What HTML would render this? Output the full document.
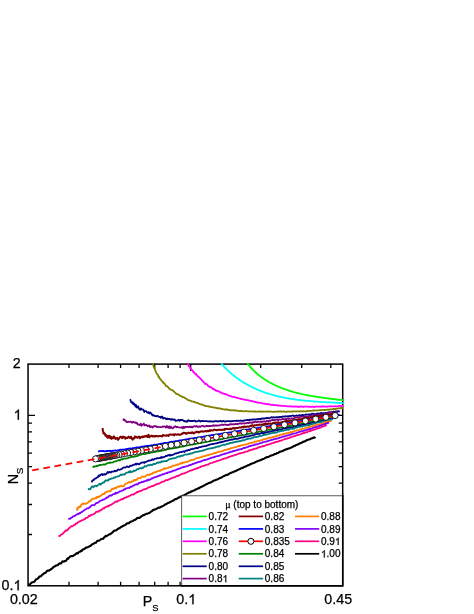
<!DOCTYPE html>
<html><head><meta charset="utf-8"><title>chart</title>
<style>html,body{margin:0;padding:0;background:#fff}svg{display:block}text{font-family:"Liberation Sans",sans-serif;fill:#000;stroke:#000;stroke-width:.25px}</style></head>
<body>
<svg style="will-change:transform" width="474" height="614" viewBox="0 0 474 614">
<rect width="474" height="614" fill="#fff"/>
<defs><clipPath id="cp"><rect x="28.05" y="363.35" width="315.4" height="222.44999999999993"/></clipPath></defs>
<rect x="28.05" y="364.1" width="314.65" height="221.69999999999993" fill="none" stroke="#000" stroke-width="1.5"/>
<path d="M69.0 585.8 v-4 M69.0 364.1 v4 M98.1 585.8 v-4 M98.1 364.1 v4 M120.6 585.8 v-4 M120.6 364.1 v4 M139.1 585.8 v-4 M139.1 364.1 v4 M154.7 585.8 v-4 M154.7 364.1 v4 M168.1 585.8 v-4 M168.1 364.1 v4 M180.1 585.8 v-4 M180.1 364.1 v4 M260.7 585.8 v-4 M260.7 364.1 v4 M301.7 585.8 v-4 M301.7 364.1 v4 M330.8 585.8 v-4 M330.8 364.1 v4 M190.7 585.8 v-6.8 M190.7 364.1 v6.8 M28.05 534.5 h4 M342.7 534.5 h-4 M28.05 504.5 h4 M342.7 504.5 h-4 M28.05 483.2 h4 M342.7 483.2 h-4 M28.05 466.7 h4 M342.7 466.7 h-4 M28.05 453.2 h4 M342.7 453.2 h-4 M28.05 441.8 h4 M342.7 441.8 h-4 M28.05 431.9 h4 M342.7 431.9 h-4 M28.05 423.2 h4 M342.7 423.2 h-4 M28.05 415.4 h6.9 M342.7 415.4 h-6.9" stroke="#000" stroke-width="1.3" fill="none"/>
<g clip-path="url(#cp)" fill="none" stroke-linejoin="round" stroke-linecap="butt">
<path d="M247.3 363.3 L247.8 364.1 L248.3 364.7 L248.8 365.1 L249.3 365.7 L249.8 366.3 L250.3 367.0 L250.9 367.6 L251.4 368.2 L252.0 368.7 L252.5 369.4 L253.1 369.9 L253.6 370.5 L254.2 371.0 L254.8 371.6 L255.4 372.2 L256.0 372.7 L256.5 373.2 L257.1 373.7 L257.7 374.3 L258.4 374.8 L259.0 375.3 L259.6 375.8 L260.2 376.2 L260.8 376.7 L261.5 377.2 L262.1 377.6 L262.8 378.1 L263.4 378.5 L264.1 379.0 L264.7 379.4 L265.4 379.8 L266.1 380.2 L266.7 380.7 L267.4 381.1 L268.1 381.5 L268.8 382.0 L269.5 382.4 L270.2 382.7 L270.9 383.0 L271.6 383.4 L272.3 383.8 L273.0 384.2 L273.7 384.5 L274.4 384.8 L275.1 385.2 L275.8 385.5 L276.6 385.9 L277.3 386.2 L278.0 386.5 L278.8 386.9 L279.5 387.2 L280.2 387.5 L281.0 387.7 L281.7 388.1 L282.5 388.3 L283.2 388.6 L284.0 388.9 L284.7 389.1 L285.5 389.4 L286.2 389.7 L287.0 390.0 L287.8 390.2 L288.5 390.4 L289.3 390.7 L290.1 390.9 L290.8 391.2 L291.6 391.4 L292.4 391.7 L293.1 391.8 L293.9 392.1 L294.7 392.3 L295.5 392.5 L296.2 392.7 L297.0 392.9 L297.8 393.1 L298.6 393.2 L299.4 393.5 L300.1 393.7 L300.9 393.8 L301.7 394.0 L302.5 394.3 L303.3 394.3 L304.1 394.5 L304.9 394.7 L305.6 394.8 L306.4 395.0 L307.2 395.1 L308.0 395.3 L308.8 395.5 L309.6 395.6 L310.4 395.6 L311.2 395.8 L312.0 396.0 L312.8 396.2 L313.6 396.3 L314.4 396.4 L315.2 396.6 L316.0 396.7 L316.7 396.8 L317.5 396.9 L318.3 397.1 L319.1 397.2 L319.9 397.3 L320.7 397.4 L321.5 397.4 L322.3 397.6 L323.1 397.8 L323.9 397.8 L324.7 397.9 L325.5 398.1 L326.3 398.2 L327.1 398.4 L327.9 398.4 L328.7 398.5 L329.5 398.5 L330.3 398.8 L331.1 398.9 L331.8 398.9 L332.6 399.0 L333.4 399.1 L334.2 399.1 L335.0 399.3 L335.8 399.4 L336.6 399.5 L337.4 399.6 L338.2 399.6 L338.9 399.8 L339.7 399.8 L340.5 399.9 L341.3 399.9 L342.1 400.1 L342.9 400.2 L343.6 400.3" stroke="#00ff00" stroke-width="1.8"/>
<path d="M221.2 362.8 L221.7 363.6 L222.2 364.4 L222.8 365.2 L223.3 365.8 L223.9 366.4 L224.4 367.0 L224.9 367.4 L225.5 368.2 L226.1 368.6 L226.6 369.3 L227.2 369.9 L227.8 370.3 L228.4 370.9 L228.9 371.6 L229.5 372.0 L230.1 372.4 L230.7 373.0 L231.3 373.5 L231.9 374.2 L232.5 374.6 L233.2 375.1 L233.8 375.4 L234.4 376.2 L235.0 376.5 L235.7 377.0 L236.3 377.6 L236.9 378.0 L237.6 378.5 L238.2 378.9 L238.9 379.5 L239.5 380.0 L240.2 380.3 L240.9 380.8 L241.5 381.2 L242.2 381.6 L242.9 381.9 L243.5 382.4 L244.2 382.9 L244.9 383.3 L245.6 383.7 L246.3 384.0 L247.0 384.4 L247.7 384.9 L248.4 385.2 L249.1 385.5 L249.8 386.0 L250.5 386.3 L251.2 386.7 L251.9 387.1 L252.6 387.4 L253.3 387.8 L254.0 388.2 L254.8 388.5 L255.5 388.6 L256.2 389.1 L256.9 389.4 L257.7 389.8 L258.4 390.0 L259.2 390.4 L259.9 390.6 L260.6 390.9 L261.4 391.2 L262.1 391.5 L262.9 391.8 L263.6 392.1 L264.4 392.4 L265.1 392.6 L265.9 392.9 L266.6 393.1 L267.4 393.3 L268.1 393.5 L268.9 393.8 L269.7 394.0 L270.4 394.2 L271.2 394.5 L272.0 394.7 L272.7 394.9 L273.5 395.2 L274.3 395.4 L275.0 395.6 L275.8 395.7 L276.6 395.9 L277.4 396.1 L278.1 396.4 L278.9 396.6 L279.7 396.7 L280.5 396.8 L281.3 396.9 L282.0 397.2 L282.8 397.3 L283.6 397.5 L284.4 397.6 L285.2 397.8 L286.0 397.9 L286.8 398.2 L287.6 398.3 L288.3 398.4 L289.1 398.5 L289.9 398.6 L290.7 398.8 L291.5 398.9 L292.3 399.1 L293.1 399.2 L293.9 399.3 L294.7 399.4 L295.5 399.6 L296.3 399.6 L297.1 399.8 L297.9 399.9 L298.7 399.9 L299.5 400.0 L300.3 400.1 L301.1 400.2 L301.9 400.3 L302.7 400.3 L303.5 400.5 L304.3 400.6 L305.1 400.7 L305.9 400.6 L306.7 400.8 L307.5 400.8 L308.3 400.9 L309.1 400.9 L309.9 401.1 L310.7 401.2 L311.5 401.2 L312.3 401.3 L313.1 401.4 L314.0 401.4 L314.8 401.6 L315.6 401.6 L316.4 401.6 L317.2 401.6 L318.0 401.7 L318.8 401.8 L319.6 401.8 L320.4 401.9 L321.2 402.0 L322.0 402.0 L322.8 402.1 L323.6 402.1 L324.4 402.1 L325.2 402.2 L326.0 402.2 L326.8 402.3 L327.6 402.3 L328.4 402.2 L329.2 402.3 L330.0 402.3 L330.8 402.4 L331.6 402.4 L332.4 402.5 L333.1 402.6 L333.9 402.7 L334.7 402.6 L335.5 402.8 L336.3 402.9 L337.1 402.7 L337.9 403.0 L338.7 402.8 L339.5 402.9 L340.3 403.0 L341.0 403.0 L341.8 403.2 L342.6 403.2 L343.4 403.1 L343.6 403.2" stroke="#00ffff" stroke-width="1.8"/>
<path d="M187.3 363.3 L187.7 363.9 L188.1 365.0 L188.5 365.6 L188.9 366.2 L189.4 366.2 L189.8 366.8 L190.3 368.5 L190.8 368.4 L191.3 369.5 L191.8 369.7 L192.3 370.6 L192.8 370.7 L193.4 372.2 L193.9 371.9 L194.4 372.8 L195.0 373.5 L195.5 374.4 L196.1 374.0 L196.6 375.0 L197.2 375.4 L197.7 376.3 L198.3 376.8 L198.8 376.9 L199.4 377.7 L200.0 378.0 L200.6 378.9 L201.1 379.4 L201.7 379.9 L202.3 380.7 L202.9 381.3 L203.5 382.4 L204.1 382.4 L204.7 383.3 L205.3 384.1 L206.0 383.6 L206.6 384.1 L207.2 384.7 L207.9 385.5 L208.5 386.4 L209.2 386.5 L209.8 387.1 L210.5 387.2 L211.2 387.3 L211.8 387.8 L212.5 388.8 L213.2 389.0 L213.9 389.0 L214.6 389.9 L215.3 389.8 L216.0 390.6 L216.7 391.0 L217.4 390.8 L218.1 391.0 L218.8 391.7 L219.6 391.7 L220.3 392.3 L221.0 392.3 L221.8 393.1 L222.5 393.3 L223.2 393.6 L224.0 393.7 L224.7 394.1 L225.5 394.0 L226.2 394.4 L227.0 394.7 L227.7 395.2 L228.5 395.3 L229.3 395.9 L230.0 395.9 L230.8 396.1 L231.6 396.6 L232.3 396.8 L233.1 396.8 L233.9 396.9 L234.7 397.2 L235.4 397.3 L236.2 397.5 L237.0 397.9 L237.8 398.0 L238.5 398.2 L239.3 398.4 L240.1 398.6 L240.9 398.8 L241.7 399.1 L242.4 399.1 L243.2 399.3 L244.0 399.6 L244.8 399.7 L245.6 399.8 L246.3 400.2 L247.1 400.1 L247.9 400.1 L248.7 400.5 L249.5 400.6 L250.3 400.8 L251.0 401.0 L251.8 401.1 L252.6 401.2 L253.4 401.4 L254.2 401.6 L255.0 402.0 L255.8 402.0 L256.5 402.2 L257.3 402.6 L258.1 402.4 L258.9 402.8 L259.7 402.9 L260.5 402.9 L261.3 402.9 L262.0 403.3 L262.8 403.5 L263.6 403.7 L264.4 403.7 L265.2 404.0 L266.0 404.1 L266.8 403.9 L267.6 404.3 L268.3 404.2 L269.1 404.3 L269.9 404.4 L270.7 404.8 L271.5 404.9 L272.3 404.7 L273.1 405.0 L273.9 405.1 L274.7 405.1 L275.5 405.2 L276.3 405.2 L277.1 405.5 L277.8 405.4 L278.6 405.5 L279.4 405.6 L280.2 405.6 L281.0 405.8 L281.8 405.9 L282.6 405.8 L283.4 405.8 L284.2 405.9 L285.0 406.1 L285.8 406.1 L286.6 406.2 L287.4 406.3 L288.2 406.3 L289.0 406.4 L289.8 406.2 L290.6 406.6 L291.4 406.3 L292.2 406.4 L293.0 406.7 L293.8 406.6 L294.6 406.6 L295.4 406.5 L296.2 406.4 L297.0 406.6 L297.8 406.8 L298.6 406.6 L299.4 406.8 L300.2 406.5 L301.0 406.5 L301.8 406.7 L302.6 406.7 L303.4 406.9 L304.2 406.7 L305.0 406.7 L305.8 406.6 L306.6 406.6 L307.4 406.7 L308.2 406.7 L309.0 406.9 L309.8 406.8 L310.6 406.7 L311.4 407.0 L312.2 406.7 L313.0 406.7 L313.8 407.0 L314.6 407.0 L315.4 406.7 L316.2 406.6 L317.0 406.6 L317.8 406.7 L318.6 406.6 L319.4 406.6 L320.2 406.7 L321.0 406.8 L321.8 406.4 L322.6 406.5 L323.4 406.4 L324.2 406.7 L325.0 406.7 L325.8 406.7 L326.6 406.6 L327.4 406.7 L328.2 406.3 L329.0 406.5 L329.8 406.3 L330.6 406.2 L331.4 406.3 L332.2 406.4 L333.0 406.4 L333.8 406.4 L334.6 406.3 L335.4 406.1 L336.2 406.4 L337.0 406.3 L337.8 406.4 L338.6 406.0 L339.4 405.8 L340.2 405.9 L341.0 406.2 L341.8 406.1 L342.6 406.0 L343.4 406.0 L343.6 406.0" stroke="#ff00ff" stroke-width="1.8"/>
<path d="M152.9 363.1 L153.1 363.8 L153.3 365.1 L153.5 365.8 L153.7 366.8 L154.0 367.1 L154.2 368.1 L154.5 368.5 L154.8 368.4 L155.1 370.0 L155.4 370.5 L155.8 371.8 L156.1 372.2 L156.5 373.1 L156.9 373.9 L157.3 374.4 L157.7 374.8 L158.1 375.0 L158.5 377.1 L158.9 376.6 L159.4 377.7 L159.8 378.6 L160.3 379.1 L160.8 379.7 L161.3 380.3 L161.8 381.0 L162.3 381.4 L162.8 382.5 L163.4 382.2 L163.9 383.2 L164.4 383.6 L165.0 384.2 L165.6 385.2 L166.1 386.2 L166.7 386.1 L167.3 386.4 L167.9 387.1 L168.5 387.5 L169.1 388.6 L169.7 389.1 L170.4 389.4 L171.0 389.6 L171.6 390.1 L172.3 390.4 L172.9 390.4 L173.6 391.3 L174.2 391.8 L174.9 392.4 L175.5 392.8 L176.2 393.9 L176.9 394.0 L177.5 394.4 L178.2 394.4 L178.9 394.8 L179.6 395.4 L180.3 395.9 L181.0 396.1 L181.7 396.4 L182.4 397.1 L183.1 397.2 L183.8 397.2 L184.5 397.7 L185.2 398.1 L186.0 398.7 L186.7 398.8 L187.4 399.5 L188.1 400.1 L188.9 400.3 L189.6 400.3 L190.3 400.6 L191.1 401.0 L191.8 401.4 L192.6 401.7 L193.3 401.7 L194.1 401.6 L194.8 402.4 L195.6 402.4 L196.4 402.8 L197.1 403.0 L197.9 403.0 L198.6 403.5 L199.4 403.9 L200.2 404.3 L201.0 404.4 L201.7 404.3 L202.5 404.8 L203.3 405.1 L204.1 405.4 L204.8 405.6 L205.6 406.0 L206.4 406.1 L207.2 406.2 L208.0 406.3 L208.8 406.2 L209.5 406.8 L210.3 406.9 L211.1 406.9 L211.9 407.2 L212.7 407.4 L213.5 407.4 L214.3 407.6 L215.1 407.7 L215.8 407.9 L216.6 408.0 L217.4 408.3 L218.2 408.1 L219.0 408.3 L219.8 408.3 L220.6 408.6 L221.4 408.9 L222.2 409.0 L223.0 409.2 L223.8 409.3 L224.5 409.6 L225.3 409.4 L226.1 409.7 L226.9 409.4 L227.7 409.7 L228.5 410.0 L229.3 410.0 L230.1 410.2 L230.9 410.3 L231.7 410.1 L232.5 410.3 L233.3 410.3 L234.1 410.2 L234.8 410.5 L235.6 410.5 L236.4 410.7 L237.2 410.5 L238.0 410.9 L238.8 410.8 L239.6 411.1 L240.4 411.0 L241.2 411.0 L242.0 411.1 L242.8 411.2 L243.6 411.3 L244.4 411.4 L245.2 411.2 L246.0 411.1 L246.8 411.1 L247.6 411.3 L248.4 411.5 L249.2 411.4 L249.9 411.4 L250.7 411.3 L251.5 411.3 L252.3 411.4 L253.1 411.6 L253.9 411.4 L254.7 411.6 L255.5 411.4 L256.3 411.6 L257.1 411.6 L257.9 411.6 L258.7 411.5 L259.5 411.5 L260.3 411.6 L261.1 411.5 L261.9 411.8 L262.7 411.5 L263.5 411.6 L264.3 411.6 L265.1 411.6 L265.9 411.6 L266.7 411.7 L267.5 411.7 L268.3 411.4 L269.1 411.6 L269.9 411.5 L270.7 411.7 L271.5 411.7 L272.3 411.8 L273.1 411.8 L273.9 411.7 L274.7 411.9 L275.5 411.6 L276.3 411.7 L277.1 411.6 L277.9 411.5 L278.7 411.4 L279.5 411.6 L280.3 411.5 L281.1 411.5 L281.9 411.5 L282.7 411.7 L283.5 411.5 L284.3 411.4 L285.1 411.7 L285.9 411.8 L286.7 411.8 L287.5 411.5 L288.3 411.6 L289.1 411.6 L289.9 411.7 L290.7 411.6 L291.5 411.4 L292.3 411.6 L293.1 411.5 L293.9 411.3 L294.7 411.3 L295.5 411.4 L296.3 411.3 L297.1 411.4 L297.9 411.4 L298.7 411.4 L299.5 411.3 L300.3 411.2 L301.1 411.4 L301.9 411.4 L302.7 411.4 L303.6 411.2 L304.4 411.3 L305.2 411.4 L306.0 411.3 L306.8 411.1 L307.6 411.1 L308.4 410.8 L309.2 410.9 L310.0 410.8 L310.8 410.8 L311.6 410.8 L312.4 410.7 L313.2 410.4 L314.0 410.5 L314.8 410.5 L315.6 410.4 L316.4 410.3 L317.2 410.4 L318.0 410.4 L318.8 410.3 L319.6 410.1 L320.4 410.2 L321.1 410.1 L321.9 410.0 L322.7 409.8 L323.5 410.0 L324.3 409.8 L325.1 410.1 L325.9 409.8 L326.7 409.7 L327.5 409.7 L328.3 409.9 L329.1 409.5 L329.9 409.5 L330.7 409.3 L331.5 409.3 L332.3 409.2 L333.1 409.2 L333.9 408.9 L334.7 409.0 L335.5 409.1 L336.3 408.7 L337.1 408.7 L337.9 408.5 L338.7 408.3 L339.4 408.3 L340.2 408.4 L341.0 408.1 L341.8 407.9 L342.6 408.0 L343.4 407.9 L343.6 408.0" stroke="#808000" stroke-width="1.8"/>
<path d="M130.0 399.3 L130.5 400.0 L131.0 402.0 L131.5 402.2 L132.0 402.8 L132.6 402.2 L133.1 404.0 L133.7 403.3 L134.3 404.9 L134.9 404.3 L135.5 406.6 L136.1 405.0 L136.8 407.4 L137.4 407.6 L138.1 406.4 L138.7 407.8 L139.4 409.4 L140.1 409.7 L140.8 408.4 L141.5 409.5 L142.2 409.3 L142.9 409.6 L143.6 410.1 L144.3 412.0 L145.0 411.1 L145.8 411.2 L146.5 411.4 L147.2 412.4 L148.0 412.8 L148.7 412.1 L149.5 413.5 L150.2 412.5 L151.0 413.3 L151.8 414.3 L152.5 415.5 L153.3 414.9 L154.0 415.4 L154.8 416.1 L155.6 415.9 L156.3 416.3 L157.1 416.3 L157.8 415.9 L158.6 416.5 L159.4 417.0 L160.1 416.9 L160.9 417.8 L161.7 416.5 L162.5 417.0 L163.2 418.5 L164.0 418.1 L164.8 417.9 L165.5 418.6 L166.3 419.2 L167.1 418.5 L167.9 419.2 L168.6 418.8 L169.4 418.9 L170.2 419.2 L171.0 419.9 L171.8 419.0 L172.5 419.3 L173.3 419.9 L174.1 419.4 L174.9 419.7 L175.7 420.9 L176.5 420.7 L177.3 420.5 L178.0 420.4 L178.8 419.8 L179.6 420.8 L180.4 419.9 L181.2 420.2 L182.0 419.7 L182.8 420.1 L183.6 421.0 L184.4 420.9 L185.2 421.5 L186.0 421.2 L186.8 421.8 L187.6 420.9 L188.4 420.2 L189.2 421.0 L190.0 420.8 L190.8 421.1 L191.6 420.9 L192.4 421.0 L193.2 421.0 L194.0 420.8 L194.8 420.7 L195.6 421.5 L196.4 421.3 L197.2 421.4 L198.0 421.1 L198.8 420.6 L199.6 420.7 L200.4 421.6 L201.2 421.1 L202.0 421.2 L202.8 420.9 L203.6 421.1 L204.4 421.1 L205.2 421.2 L206.0 421.2 L206.8 421.2 L207.6 421.3 L208.4 421.4 L209.2 421.5 L210.0 421.2 L210.8 421.6 L211.6 421.3 L212.4 421.5 L213.2 421.4 L214.0 421.7 L214.8 421.2 L215.6 421.0 L216.4 421.2 L217.2 421.5 L218.0 421.1 L218.8 421.5 L219.6 421.3 L220.4 420.9 L221.2 421.2 L222.0 421.6 L222.8 421.1 L223.6 421.0 L224.4 421.4 L225.2 421.5 L226.0 421.5 L226.8 421.2 L227.6 421.2 L228.4 421.1 L229.2 421.2 L230.0 421.4 L230.8 421.1 L231.6 421.4 L232.4 421.0 L233.2 421.2 L234.0 420.8 L234.8 420.8 L235.6 421.0 L236.4 420.7 L237.2 421.0 L238.0 420.7 L238.8 420.8 L239.6 420.7 L240.4 420.5 L241.2 420.6 L242.0 420.9 L242.8 421.0 L243.6 420.4 L244.4 420.6 L245.2 420.3 L246.0 420.1 L246.8 420.2 L247.6 419.9 L248.4 420.0 L249.1 420.2 L249.9 419.5 L250.7 419.8 L251.5 419.8 L252.3 419.4 L253.1 419.5 L253.9 419.4 L254.7 419.3 L255.5 419.7 L256.3 419.2 L257.1 419.5 L257.9 419.2 L258.7 419.0 L259.5 419.0 L260.3 418.9 L261.1 419.0 L261.9 418.4 L262.7 418.6 L263.5 418.4 L264.3 418.7 L265.1 418.1 L265.9 418.4 L266.7 417.9 L267.5 418.2 L268.3 418.1 L269.1 418.2 L269.9 417.8 L270.7 417.5 L271.5 417.2 L272.3 417.6 L273.0 417.3 L273.8 417.2 L274.6 417.6 L275.4 417.3 L276.2 417.2 L277.0 417.1 L277.8 417.5 L278.6 417.5 L279.4 416.8 L280.2 416.9 L281.0 417.0 L281.8 417.1 L282.6 416.4 L283.4 416.7 L284.2 416.7 L285.0 416.2 L285.8 416.5 L286.6 416.4 L287.4 416.4 L288.2 416.1 L289.0 416.3 L289.8 416.0 L290.6 416.1 L291.4 415.9 L292.2 415.7 L293.0 415.4 L293.8 416.0 L294.6 415.9 L295.4 415.8 L296.2 415.5 L297.0 415.6 L297.8 415.9 L298.6 415.5 L299.3 415.1 L300.1 415.3 L300.9 415.3 L301.7 415.1 L302.5 414.8 L303.3 415.2 L304.1 415.0 L304.9 414.8 L305.7 414.5 L306.5 414.6 L307.3 414.6 L308.1 414.7 L308.9 414.4 L309.7 414.6 L310.5 414.3 L311.3 414.0 L312.1 413.7 L312.9 413.8 L313.7 413.8 L314.5 414.1 L315.3 414.1 L316.1 414.1 L316.9 413.7 L317.7 413.4 L318.5 413.9 L319.3 413.5 L320.1 413.3 L320.8 413.2 L321.6 412.9 L322.4 413.4 L323.2 413.2 L324.0 413.4 L324.8 413.1 L325.6 413.0 L326.4 413.1 L327.2 412.7 L328.0 412.5 L328.8 412.5 L329.6 412.1 L330.4 412.3 L331.2 412.1 L332.0 412.2 L332.8 411.9 L333.6 411.5 L334.4 411.8 L335.2 412.0 L336.0 411.3 L336.7 411.4 L337.5 411.5 L338.3 411.2 L339.1 411.3 L339.9 411.3" stroke="#000080" stroke-width="1.8"/>
<path d="M123.1 420.6 L123.8 419.3 L124.6 419.8 L125.3 420.9 L126.1 421.2 L126.8 422.2 L127.6 422.1 L128.3 421.7 L129.1 421.9 L129.9 421.9 L130.6 421.7 L131.4 421.8 L132.1 422.7 L132.9 422.0 L133.7 422.0 L134.5 422.6 L135.2 422.3 L136.0 423.1 L136.8 422.6 L137.6 424.5 L138.3 424.3 L139.1 424.8 L139.9 425.1 L140.7 423.6 L141.5 425.8 L142.2 424.6 L143.0 424.7 L143.8 423.6 L144.6 425.3 L145.4 425.1 L146.2 424.9 L147.0 425.5 L147.8 426.4 L148.5 425.7 L149.3 425.5 L150.1 427.2 L150.9 426.6 L151.7 426.4 L152.5 427.6 L153.3 426.6 L154.1 426.1 L154.9 426.3 L155.7 426.0 L156.5 426.8 L157.3 427.1 L158.1 426.8 L158.8 427.0 L159.6 427.2 L160.4 427.1 L161.2 427.1 L162.0 427.1 L162.8 426.5 L163.6 426.6 L164.4 426.3 L165.2 426.7 L166.0 427.5 L166.8 425.9 L167.6 427.1 L168.4 427.9 L169.2 426.3 L170.0 428.2 L170.8 426.6 L171.6 427.7 L172.4 428.3 L173.2 428.1 L174.0 426.9 L174.8 426.5 L175.6 426.4 L176.4 427.3 L177.2 426.8 L178.0 427.1 L178.8 427.3 L179.6 427.5 L180.4 427.7 L181.2 427.6 L182.0 427.0 L182.8 428.4 L183.6 426.8 L184.4 427.9 L185.2 426.9 L186.0 427.0 L186.8 426.9 L187.6 426.9 L188.4 427.2 L189.2 426.9 L190.0 426.7 L190.8 427.3 L191.6 426.7 L192.4 427.3 L193.2 426.6 L194.0 426.2 L194.8 426.4 L195.6 426.5 L196.4 426.0 L197.2 426.4 L198.0 427.1 L198.8 426.4 L199.6 426.5 L200.4 426.8 L201.2 426.2 L202.1 425.8 L202.9 425.8 L203.7 426.4 L204.5 426.5 L205.3 426.4 L206.1 426.3 L206.9 425.7 L207.7 426.2 L208.5 426.3 L209.3 425.8 L210.1 426.2 L210.9 425.9 L211.7 425.9 L212.5 425.8 L213.3 425.2 L214.1 425.9 L214.9 425.4 L215.7 425.5 L216.5 425.4 L217.3 425.6 L218.1 425.5 L218.9 425.3 L219.7 425.5 L220.5 425.0 L221.3 424.8 L222.1 424.5 L222.9 425.0 L223.7 424.9 L224.5 424.7 L225.3 424.6 L226.1 424.8 L226.9 424.8 L227.7 425.1 L228.5 424.9 L229.3 424.4 L230.1 424.6 L230.9 424.1 L231.6 424.4 L232.4 424.3 L233.2 424.1 L234.0 424.3 L234.8 424.2 L235.6 423.9 L236.4 424.2 L237.2 424.2 L238.0 423.9 L238.8 423.8 L239.6 423.4 L240.4 423.2 L241.2 423.8 L242.0 423.3 L242.8 423.5 L243.6 423.3 L244.4 423.5 L245.2 423.4 L246.0 423.4 L246.8 422.8 L247.6 422.9 L248.4 423.2 L249.2 422.5 L250.0 422.4 L250.8 422.8 L251.6 422.6 L252.4 422.8 L253.2 422.0 L254.0 422.4 L254.7 421.9 L255.5 421.7 L256.3 422.0 L257.1 422.3 L257.9 421.6 L258.7 421.7 L259.5 421.8 L260.3 421.8 L261.1 421.4 L261.9 422.0 L262.7 421.7 L263.5 421.4 L264.3 421.3 L265.1 421.8 L265.9 421.6 L266.7 420.9 L267.5 421.1 L268.3 421.4 L269.1 420.7 L269.8 420.6 L270.6 420.8 L271.4 420.1 L272.2 420.2 L273.0 419.9 L273.8 420.0 L274.6 420.2 L275.4 419.8 L276.2 419.5 L277.0 419.7 L277.8 420.3 L278.6 420.0 L279.4 419.7 L280.2 419.7 L281.0 419.7 L281.8 419.5 L282.5 418.9 L283.3 419.3 L284.1 419.2 L284.9 419.4 L285.7 418.8 L286.5 419.2 L287.3 418.7 L288.1 418.3 L288.9 419.0 L289.7 418.5 L290.5 418.7 L291.3 418.4 L292.1 418.6 L292.9 418.4 L293.7 418.3 L294.4 418.1 L295.2 417.4 L296.0 417.3 L296.8 417.7 L297.6 417.4 L298.4 417.6 L299.2 417.5 L300.0 416.9 L300.8 416.9 L301.6 416.7 L302.4 416.5 L303.2 416.7 L304.0 416.9 L304.8 417.1 L305.5 416.5 L306.3 416.5 L307.1 417.0 L307.9 416.6 L308.7 416.3 L309.5 415.7 L310.3 415.8 L311.1 416.0 L311.9 415.7 L312.7 416.3 L313.5 415.8 L314.3 415.7 L315.1 415.1 L315.9 415.0 L316.6 415.1 L317.4 415.2 L318.2 415.2 L319.0 415.2 L319.8 415.0 L320.6 415.0 L321.4 414.3 L322.2 414.5 L323.0 414.3 L323.8 414.3 L324.6 413.7 L325.4 413.7 L326.2 413.5 L327.0 413.7 L327.7 413.4 L328.5 412.9 L329.3 412.9 L330.1 412.9 L330.9 413.1 L331.7 412.6 L332.5 413.0 L333.3 412.6 L334.1 413.1 L334.9 413.0 L335.7 412.4 L336.5 412.2 L337.3 412.7 L337.5 412.4" stroke="#800080" stroke-width="1.8"/>
<path d="M102.6 428.0 L102.8 430.7 L103.1 431.1 L103.5 433.6 L103.9 432.7 L104.4 433.5 L104.9 433.7 L105.4 435.7 L106.0 435.3 L106.6 435.3 L107.2 437.6 L107.9 437.8 L108.6 436.0 L109.3 435.8 L110.0 438.0 L110.8 436.6 L111.5 438.9 L112.3 437.4 L113.1 438.2 L113.9 436.3 L114.7 437.6 L115.5 438.9 L116.3 438.5 L117.2 437.8 L118.0 439.8 L118.8 438.9 L119.7 437.6 L120.5 436.7 L121.3 436.7 L122.1 438.2 L123.0 436.6 L123.8 437.5 L124.6 437.0 L125.4 438.8 L126.2 437.6 L127.0 438.1 L127.8 437.6 L128.6 436.6 L129.4 437.6 L130.2 438.0 L131.0 436.7 L131.8 438.6 L132.6 439.7 L133.4 438.1 L134.2 438.4 L135.0 436.4 L135.8 437.5 L136.6 436.9 L137.4 437.8 L138.2 437.2 L139.0 436.5 L139.8 438.3 L140.6 437.5 L141.4 436.7 L142.2 437.3 L143.0 436.3 L143.8 437.0 L144.6 436.4 L145.4 436.0 L146.2 436.7 L147.0 435.5 L147.8 437.0 L148.6 434.9 L149.4 437.3 L150.2 436.3 L151.0 436.0 L151.8 435.6 L152.6 436.5 L153.4 436.1 L154.2 436.1 L155.0 436.6 L155.7 435.8 L156.5 435.9 L157.3 436.4 L158.1 436.6 L158.9 435.9 L159.7 436.0 L160.5 436.0 L161.3 436.2 L162.1 436.4 L162.9 435.0 L163.7 435.4 L164.5 435.5 L165.3 435.6 L166.1 435.9 L166.9 435.1 L167.7 435.4 L168.5 435.9 L169.3 434.5 L170.1 434.6 L170.9 434.6 L171.7 434.7 L172.5 434.7 L173.3 434.3 L174.1 435.4 L174.8 434.2 L175.6 434.3 L176.4 434.7 L177.2 434.5 L178.0 434.2 L178.8 434.6 L179.6 434.9 L180.4 434.4 L181.2 434.5 L182.0 433.5 L182.8 433.7 L183.6 432.7 L184.4 433.0 L185.2 432.9 L186.0 434.0 L186.8 433.1 L187.6 433.3 L188.4 432.6 L189.2 432.9 L190.0 432.9 L190.8 432.6 L191.5 433.2 L192.3 432.2 L193.1 433.1 L193.9 433.5 L194.7 432.4 L195.5 432.5 L196.3 431.7 L197.1 432.2 L197.9 431.7 L198.7 432.6 L199.5 432.2 L200.3 431.5 L201.1 431.5 L201.9 431.2 L202.7 431.5 L203.5 431.7 L204.3 431.3 L205.1 431.1 L205.9 431.2 L206.7 431.4 L207.5 430.7 L208.2 431.2 L209.0 431.0 L209.8 430.1 L210.6 430.9 L211.4 430.1 L212.2 430.4 L213.0 430.6 L213.8 429.7 L214.6 429.6 L215.4 429.9 L216.2 430.0 L217.0 430.2 L217.8 430.0 L218.6 429.8 L219.4 429.8 L220.2 429.9 L221.0 429.7 L221.8 430.1 L222.6 429.9 L223.4 429.4 L224.2 429.9 L224.9 428.7 L225.7 429.2 L226.5 428.8 L227.3 429.1 L228.1 429.1 L228.9 429.1 L229.7 429.3 L230.5 428.6 L231.3 429.3 L232.1 428.7 L232.9 428.2 L233.7 427.9 L234.5 428.7 L235.3 428.5 L236.1 427.9 L236.9 428.0 L237.7 428.0 L238.5 427.6 L239.3 427.4 L240.1 427.4 L240.8 427.6 L241.6 427.3 L242.4 426.8 L243.2 427.3 L244.0 426.5 L244.8 426.7 L245.6 427.2 L246.4 426.7 L247.2 426.5 L248.0 426.4 L248.8 426.7 L249.6 426.4 L250.4 425.7 L251.2 426.1 L252.0 425.3 L252.8 425.2 L253.6 426.0 L254.3 425.7 L255.1 425.2 L255.9 425.2 L256.7 425.1 L257.5 425.3 L258.3 424.8 L259.1 424.7 L259.9 424.6 L260.7 424.7 L261.5 424.7 L262.3 424.4 L263.1 424.7 L263.9 424.0 L264.7 424.3 L265.5 424.0 L266.3 423.8 L267.0 424.3 L267.8 423.8 L268.6 423.5 L269.4 423.8 L270.2 423.4 L271.0 423.8 L271.8 423.7 L272.6 423.5 L273.4 422.7 L274.2 422.7 L275.0 423.0 L275.8 422.4 L276.6 422.9 L277.3 423.1 L278.1 422.3 L278.9 423.0 L279.7 422.7 L280.5 422.6 L281.3 422.7 L282.1 422.3 L282.9 422.0 L283.7 422.0 L284.5 421.5 L285.3 421.5 L286.1 420.6 L286.9 421.5 L287.6 420.9 L288.4 421.1 L289.2 420.9 L290.0 420.8 L290.8 420.8 L291.6 420.8 L292.4 420.2 L293.2 420.3 L294.0 420.6 L294.8 419.8 L295.6 419.7 L296.3 420.4 L297.1 420.1 L297.9 420.0 L298.7 419.3 L299.5 419.3 L300.3 419.3 L301.1 419.2 L301.9 419.0 L302.7 418.6 L303.5 418.6 L304.2 418.2 L305.0 418.8 L305.8 418.1 L306.6 418.1 L307.4 418.2 L308.2 418.1 L309.0 418.1 L309.8 417.6 L310.6 417.1 L311.4 417.9 L312.1 416.9 L312.9 416.9 L313.7 416.6 L314.5 416.5 L315.3 416.4 L316.1 416.7 L316.9 416.3 L317.7 416.7 L318.5 416.1 L319.2 416.5 L320.0 415.6 L320.8 415.9 L321.6 415.9 L322.4 415.1 L323.2 415.5 L324.0 415.5 L324.8 415.2 L325.5 415.3 L326.3 415.5 L327.1 415.0 L327.9 414.6 L328.7 414.5 L329.5 414.6 L330.3 414.8 L331.1 414.5 L331.8 414.3 L332.6 414.3 L333.4 413.3 L334.2 413.1 L335.0 412.7 L335.8 413.3 L336.5 412.5" stroke="#800000" stroke-width="2.0"/>
<path d="M98.0 451.5 L98.8 451.4 L99.6 451.2 L100.4 450.9 L101.2 450.9 L102.0 451.1 L102.8 451.2 L103.6 450.9 L104.4 451.3 L105.2 451.3 L106.0 451.2 L106.8 450.9 L107.6 451.0 L108.4 451.0 L109.2 450.8 L110.0 450.7 L110.8 451.3 L111.6 451.0 L112.4 450.7 L113.2 450.9 L114.0 450.7 L114.8 450.6 L115.6 450.5 L116.4 450.6 L117.2 450.6 L118.0 450.3 L118.8 450.1 L119.6 450.1 L120.4 449.6 L121.2 449.8 L122.0 449.6 L122.8 449.6 L123.6 449.6 L124.4 449.6 L125.2 449.4 L126.0 449.2 L126.8 449.0 L127.6 449.0 L128.4 448.7 L129.2 448.8 L130.0 448.4 L130.8 448.6 L131.6 448.6 L132.4 448.2 L133.2 448.1 L134.0 448.2 L134.8 447.9 L135.6 447.7 L136.4 447.4 L137.2 447.6 L138.0 447.4 L138.8 447.4 L139.6 447.4 L140.4 447.0 L141.2 446.9 L142.0 446.7 L142.8 446.7 L143.6 446.5 L144.4 446.4 L145.2 446.2 L146.0 446.0 L146.8 445.9 L147.6 446.1 L148.4 445.7 L149.2 445.8 L150.0 445.7 L150.8 445.4 L151.6 445.3 L152.4 445.3 L153.2 445.0 L154.0 444.8 L154.8 444.6 L155.6 444.8 L156.4 444.7 L157.2 444.7 L158.0 444.4 L158.8 444.2 L159.6 444.0 L160.4 443.9 L161.2 443.6 L162.0 443.6 L162.8 443.4 L163.6 443.2 L164.4 443.0 L165.2 442.9 L166.0 443.1 L166.8 442.8 L167.6 442.7 L168.4 442.5 L169.2 442.4 L170.0 442.0 L170.8 441.8 L171.6 441.7 L172.4 441.8 L173.2 441.7 L174.0 441.6 L174.8 441.4 L175.6 441.2 L176.4 441.2 L177.2 441.0 L178.0 440.8 L178.8 440.6 L179.6 440.5 L180.4 440.4 L181.2 440.3 L182.0 440.1 L182.8 440.1 L183.6 439.9 L184.4 439.9 L185.2 439.5 L186.0 439.6 L186.8 439.4 L187.6 439.2 L188.4 439.0 L189.2 438.9 L190.0 438.7 L190.8 438.7 L191.6 438.5 L192.4 438.4 L193.2 438.3 L194.0 438.1 L194.8 438.0 L195.6 437.8 L196.4 437.8 L197.2 437.6 L198.0 437.5 L198.8 437.4 L199.6 437.3 L200.4 437.3 L201.2 437.0 L202.0 437.0 L202.8 436.8 L203.6 436.6 L204.4 436.5 L205.2 436.4 L206.0 436.3 L206.8 436.0 L207.6 436.0 L208.4 435.7 L209.2 435.7 L210.0 435.6 L210.8 435.4 L211.6 435.2 L212.4 435.1 L213.2 435.0 L214.0 435.0 L214.8 434.8 L215.6 434.6 L216.4 434.6 L217.2 434.4 L218.0 434.3 L218.8 434.1 L219.6 434.1 L220.4 433.9 L221.2 433.7 L222.0 433.6 L222.8 433.5 L223.6 433.4 L224.4 433.3 L225.2 433.1 L226.0 433.0 L226.8 433.0 L227.6 432.8 L228.4 432.6 L229.2 432.5 L230.0 432.3 L230.8 432.3 L231.6 432.2 L232.4 432.0 L233.2 431.9 L234.0 431.7 L234.8 431.6 L235.6 431.4 L236.4 431.3 L237.2 431.1 L238.0 431.1 L238.8 430.9 L239.6 430.8 L240.4 430.6 L241.2 430.5 L242.0 430.4 L242.8 430.3 L243.6 430.2 L244.4 430.0 L245.2 429.9 L246.0 429.9 L246.8 429.7 L247.6 429.6 L248.4 429.4 L249.2 429.4 L250.0 429.1 L250.8 429.1 L251.6 428.9 L252.4 428.8 L253.2 428.6 L254.0 428.4 L254.8 428.3 L255.6 428.3 L256.4 428.2 L257.2 428.1 L258.0 428.0 L258.8 427.7 L259.6 427.7 L260.4 427.5 L261.2 427.4 L262.0 427.3 L262.8 427.1 L263.6 427.0 L264.4 427.0 L265.2 426.8 L266.0 426.6 L266.8 426.5 L267.6 426.5 L268.4 426.3 L269.2 426.2 L270.0 426.0 L270.8 425.9 L271.6 425.7 L272.4 425.5 L273.2 425.6 L274.0 425.4 L274.8 425.3 L275.6 425.1 L276.4 425.1 L277.2 425.0 L278.0 424.7 L278.8 424.6 L279.6 424.4 L280.4 424.3 L281.2 424.2 L282.0 424.1 L282.8 423.9 L283.6 423.7 L284.4 423.7 L285.2 423.5 L286.0 423.5 L286.8 423.4 L287.6 423.2 L288.4 423.1 L289.2 423.0 L290.0 422.7 L290.8 422.6 L291.6 422.4 L292.4 422.5 L293.2 422.3 L294.0 422.2 L294.8 422.0 L295.6 421.9 L296.4 421.7 L297.2 421.7 L298.0 421.4 L298.8 421.3 L299.6 421.2 L300.4 421.1 L301.2 420.9 L302.0 420.8 L302.8 420.6 L303.6 420.5 L304.4 420.5 L305.2 420.5 L306.0 420.3 L306.8 420.1 L307.6 420.0 L308.4 419.7 L309.2 419.7 L310.0 419.6 L310.8 419.5 L311.6 419.3 L312.4 419.3 L313.2 419.1 L314.0 419.0 L314.8 418.7 L315.6 418.6 L316.4 418.5 L317.2 418.4 L318.0 418.3 L318.8 418.1 L319.6 418.0 L320.4 417.9 L321.2 417.8 L322.0 417.5 L322.8 417.4 L323.6 417.2 L324.4 417.1 L325.2 417.0 L326.0 416.8 L326.8 416.8 L327.6 416.6 L328.4 416.5 L329.2 416.4 L330.0 416.2 L330.8 416.0 L331.6 415.8 L332.4 415.7 L333.2 415.6 L334.0 415.4 L334.8 415.3 L335.6 415.2 L336.4 415.2 L337.2 415.0 L338.0 414.9 L338.8 414.7 L339.6 414.5" stroke="#0000ff" stroke-width="1.8"/>
<path d="M92.7 466.3 L93.5 467.0 L94.3 466.5 L95.1 466.4 L95.9 466.4 L96.7 465.7 L97.5 466.1 L98.3 465.3 L99.1 465.3 L99.9 464.8 L100.7 465.2 L101.5 465.0 L102.3 464.7 L103.1 464.7 L103.9 464.3 L104.7 464.7 L105.5 464.3 L106.3 463.9 L107.1 463.3 L107.9 463.0 L108.7 462.8 L109.5 463.0 L110.3 462.3 L111.1 462.6 L111.9 462.7 L112.7 462.3 L113.5 462.1 L114.3 461.6 L115.1 461.4 L115.9 461.4 L116.7 461.0 L117.5 460.7 L118.3 460.4 L119.1 460.0 L119.9 460.4 L120.7 459.6 L121.5 459.2 L122.3 459.4 L123.1 458.9 L123.9 458.7 L124.7 458.7 L125.5 458.6 L126.3 458.5 L127.1 458.3 L127.9 458.1 L128.7 457.7 L129.5 457.6 L130.3 457.2 L131.1 456.9 L131.9 456.9 L132.7 456.8 L133.5 456.9 L134.3 456.6 L135.1 456.2 L135.9 456.3 L136.7 456.0 L137.5 456.1 L138.3 455.2 L139.1 455.2 L139.9 455.0 L140.7 454.8 L141.5 454.5 L142.3 454.0 L143.1 453.8 L143.9 454.1 L144.7 454.2 L145.5 454.0 L146.3 453.4 L147.1 453.4 L147.9 453.1 L148.7 452.8 L149.5 453.1 L150.3 452.8 L151.1 452.4 L151.9 452.3 L152.7 452.4 L153.5 452.2 L154.3 452.0 L155.1 451.9 L155.9 451.7 L156.7 451.5 L157.5 451.3 L158.3 451.5 L159.1 451.1 L159.9 450.8 L160.7 451.0 L161.5 450.8 L162.3 450.5 L163.1 450.3 L163.9 450.3 L164.7 449.9 L165.5 449.9 L166.3 449.7 L167.1 449.3 L167.9 449.2 L168.7 448.9 L169.5 448.9 L170.3 448.6 L171.1 448.7 L171.9 448.5 L172.7 448.2 L173.5 448.3 L174.3 448.2 L175.1 447.9 L175.9 447.9 L176.7 447.6 L177.5 447.6 L178.3 447.4 L179.1 447.0 L179.9 447.1 L180.7 446.6 L181.5 446.7 L182.3 446.5 L183.1 446.5 L183.9 446.1 L184.7 446.0 L185.5 445.8 L186.3 445.7 L187.1 445.5 L187.9 445.3 L188.7 445.2 L189.5 445.0 L190.3 444.8 L191.1 444.7 L191.9 444.7 L192.7 444.6 L193.5 444.3 L194.3 444.3 L195.1 443.9 L195.9 444.0 L196.7 443.7 L197.5 443.7 L198.3 443.4 L199.1 443.2 L199.9 443.1 L200.7 443.1 L201.5 442.8 L202.3 442.7 L203.1 442.5 L203.9 442.4 L204.7 442.2 L205.5 442.1 L206.3 441.7 L207.1 441.7 L207.9 441.6 L208.7 441.4 L209.5 441.3 L210.3 441.0 L211.1 441.0 L211.9 440.7 L212.7 440.6 L213.5 440.5 L214.3 440.4 L215.1 440.1 L215.9 440.0 L216.7 440.0 L217.5 439.6 L218.3 439.7 L219.1 439.6 L219.9 439.2 L220.7 439.3 L221.5 439.1 L222.3 439.0 L223.1 438.6 L223.9 438.5 L224.7 438.4 L225.5 438.2 L226.3 438.1 L227.1 438.0 L227.9 437.7 L228.7 437.7 L229.5 437.4 L230.3 437.3 L231.1 437.1 L231.9 437.0 L232.7 436.8 L233.5 436.8 L234.3 436.4 L235.1 436.5 L235.9 436.3 L236.7 436.1 L237.5 435.9 L238.3 435.8 L239.1 435.4 L239.9 435.5 L240.7 435.3 L241.5 435.1 L242.3 434.9 L243.1 434.8 L243.9 434.6 L244.7 434.5 L245.5 434.3 L246.3 434.1 L247.1 434.1 L247.9 433.8 L248.7 433.8 L249.5 433.6 L250.3 433.4 L251.1 433.3 L251.9 433.2 L252.7 432.8 L253.5 432.9 L254.3 432.7 L255.1 432.4 L255.9 432.3 L256.7 432.3 L257.5 432.1 L258.3 431.9 L259.1 431.7 L259.9 431.6 L260.7 431.6 L261.5 431.4 L262.3 431.1 L263.1 431.1 L263.9 430.9 L264.7 430.7 L265.5 430.6 L266.3 430.4 L267.1 430.4 L267.9 430.0 L268.7 429.8 L269.5 429.8 L270.3 429.7 L271.1 429.3 L271.9 429.4 L272.7 429.2 L273.5 428.8 L274.3 428.9 L275.1 428.5 L275.9 428.6 L276.7 428.3 L277.5 428.1 L278.3 428.1 L279.1 427.9 L279.9 427.7 L280.7 427.6 L281.5 427.5 L282.3 427.4 L283.1 427.1 L283.9 427.1 L284.7 426.8 L285.5 426.7 L286.3 426.5 L287.1 426.4 L287.9 426.2 L288.7 426.1 L289.5 425.9 L290.3 426.0 L291.1 425.6 L291.9 425.5 L292.7 425.4 L293.5 425.3 L294.3 425.2 L295.1 424.9 L295.9 424.9 L296.7 424.6 L297.5 424.4 L298.3 424.4 L299.1 424.0 L299.9 424.0 L300.7 423.8 L301.5 423.5 L302.3 423.4 L303.1 423.4 L303.9 423.0 L304.7 423.0 L305.5 422.9 L306.3 422.7 L307.1 422.6 L307.9 422.4 L308.7 422.2 L309.5 422.1 L310.3 422.0 L311.1 421.9 L311.9 421.7 L312.7 421.7 L313.5 421.4 L314.3 421.2 L315.1 421.3 L315.9 420.9 L316.7 420.7 L317.5 420.6 L318.3 420.3 L319.1 420.2 L319.9 420.1 L320.7 419.9 L321.5 419.7 L322.3 419.6 L323.1 419.5 L323.9 419.4 L324.7 419.1 L325.5 418.9 L326.3 418.9 L327.1 418.7 L327.9 418.6 L328.7 418.5 L329.5 418.3 L330.3 418.2 L331.1 418.1 L331.9 417.8 L332.7 417.6 L333.5 417.5 L334.3 417.4 L335.1 417.4 L335.9 417.1 L336.7 417.0 L337.5 416.9 L338.0 416.7" stroke="#008000" stroke-width="1.8"/>
<path d="M91.6 482.3 L92.4 480.5 L93.2 480.1 L94.0 479.8 L94.8 478.6 L95.6 478.7 L96.4 477.7 L97.2 477.6 L98.0 477.0 L98.8 475.5 L99.6 476.0 L100.4 474.7 L101.2 474.7 L102.0 474.0 L102.8 475.1 L103.6 474.4 L104.4 474.0 L105.2 474.7 L106.0 474.2 L106.8 473.4 L107.6 472.0 L108.4 472.8 L109.2 472.1 L110.0 472.0 L110.8 472.5 L111.6 471.7 L112.4 471.5 L113.2 471.7 L114.0 471.4 L114.8 470.7 L115.6 471.3 L116.4 470.7 L117.2 470.6 L118.0 469.6 L118.8 469.5 L119.6 469.8 L120.4 469.5 L121.2 469.1 L122.0 468.7 L122.8 468.0 L123.6 467.5 L124.4 467.3 L125.2 467.7 L126.0 467.1 L126.8 466.4 L127.6 466.7 L128.4 467.2 L129.2 467.0 L130.0 465.6 L130.8 465.8 L131.6 465.9 L132.4 465.2 L133.2 465.0 L134.0 464.7 L134.8 464.6 L135.6 463.8 L136.4 464.5 L137.2 463.5 L138.0 463.8 L138.8 464.4 L139.6 463.9 L140.4 463.2 L141.2 463.0 L142.0 462.5 L142.8 462.4 L143.6 462.4 L144.4 462.9 L145.2 461.9 L146.0 461.8 L146.8 461.5 L147.6 461.2 L148.4 460.7 L149.2 460.7 L150.0 460.4 L150.8 460.3 L151.6 460.0 L152.4 459.3 L153.2 459.9 L154.0 459.5 L154.8 458.8 L155.6 458.7 L156.4 458.6 L157.2 458.0 L158.0 458.4 L158.8 458.2 L159.6 458.1 L160.4 458.0 L161.2 457.0 L162.0 457.7 L162.8 457.1 L163.6 457.3 L164.4 456.9 L165.2 456.4 L166.0 455.8 L166.8 456.1 L167.6 455.4 L168.4 455.1 L169.2 455.5 L170.0 454.8 L170.8 455.5 L171.6 455.1 L172.4 455.0 L173.2 454.7 L174.0 454.2 L174.8 453.6 L175.6 453.5 L176.4 453.6 L177.2 453.1 L178.0 453.1 L178.8 452.6 L179.6 452.2 L180.4 452.2 L181.2 452.1 L182.0 451.8 L182.8 451.5 L183.6 451.3 L184.4 452.0 L185.2 451.0 L186.0 450.7 L186.8 450.4 L187.6 450.5 L188.4 450.0 L189.2 450.1 L190.0 449.8 L190.8 449.2 L191.6 449.2 L192.4 448.7 L193.2 448.8 L194.0 448.8 L194.8 448.4 L195.6 448.1 L196.4 448.0 L197.2 448.0 L198.0 448.0 L198.8 447.4 L199.6 447.1 L200.4 447.2 L201.2 446.8 L202.0 446.6 L202.8 446.4 L203.6 446.3 L204.4 446.1 L205.2 446.1 L206.0 446.0 L206.8 445.7 L207.6 445.4 L208.4 444.9 L209.2 444.9 L210.0 444.4 L210.8 444.3 L211.6 444.2 L212.4 444.0 L213.2 443.9 L214.0 443.8 L214.8 443.7 L215.6 443.4 L216.4 443.3 L217.2 443.0 L218.0 443.1 L218.8 442.6 L219.6 442.3 L220.4 442.1 L221.2 442.3 L222.0 441.7 L222.8 441.8 L223.6 441.5 L224.4 441.4 L225.2 440.9 L226.0 440.9 L226.8 440.7 L227.6 440.6 L228.4 440.5 L229.2 440.1 L230.0 439.9 L230.8 439.9 L231.6 439.5 L232.4 439.6 L233.2 439.3 L234.0 439.1 L234.8 438.9 L235.6 438.7 L236.4 438.9 L237.2 438.8 L238.0 438.5 L238.8 438.5 L239.6 438.1 L240.4 437.8 L241.2 437.5 L242.0 437.6 L242.8 437.5 L243.6 437.4 L244.4 436.9 L245.2 436.7 L246.0 436.3 L246.8 436.6 L247.6 436.4 L248.4 436.3 L249.2 436.0 L250.0 435.8 L250.8 435.6 L251.6 435.6 L252.4 435.2 L253.2 435.3 L254.0 435.0 L254.8 434.6 L255.6 434.3 L256.4 434.2 L257.2 434.1 L258.0 433.7 L258.8 433.8 L259.6 433.8 L260.4 433.6 L261.2 433.1 L262.0 432.9 L262.8 433.2 L263.6 433.1 L264.4 432.7 L265.2 432.8 L266.0 432.5 L266.8 432.2 L267.6 432.2 L268.4 431.8 L269.2 431.9 L270.0 431.9 L270.8 431.4 L271.6 431.4 L272.4 430.7 L273.2 430.9 L274.0 430.6 L274.8 430.8 L275.6 430.3 L276.4 430.0 L277.2 430.3 L278.0 429.7 L278.8 429.9 L279.6 429.6 L280.4 429.7 L281.2 429.3 L282.0 429.2 L282.8 428.9 L283.6 428.5 L284.4 428.2 L285.2 428.7 L286.0 428.4 L286.8 427.9 L287.6 427.9 L288.4 427.9 L289.2 427.4 L290.0 427.9 L290.8 427.5 L291.6 427.3 L292.4 427.3 L293.2 426.9 L294.0 426.4 L294.8 426.6 L295.6 426.3 L296.4 426.2 L297.2 425.7 L298.0 425.5 L298.8 425.7 L299.6 425.4 L300.4 425.1 L301.2 425.2 L302.0 425.2 L302.8 424.8 L303.6 425.0 L304.4 424.4 L305.2 424.3 L306.0 423.9 L306.8 423.9 L307.6 423.9 L308.4 423.8 L309.2 423.6 L310.0 423.6 L310.8 422.9 L311.6 423.1 L312.4 422.9 L313.2 422.5 L314.0 422.6 L314.8 422.4 L315.6 422.4 L316.4 422.1 L317.2 422.0 L318.0 421.5 L318.8 421.7 L319.6 421.4 L320.4 421.5 L321.2 421.0 L322.0 420.8 L322.8 420.8 L323.6 420.5 L324.4 420.3 L325.2 420.4 L326.0 420.1 L326.8 419.8 L327.6 419.6 L328.4 419.3 L329.2 419.3 L330.0 418.9 L330.8 419.2 L331.6 418.7 L332.4 418.7 L333.0 418.3" stroke="#00008b" stroke-width="1.8"/>
<path d="M87.9 489.1 L88.7 488.9 L89.5 489.4 L90.3 489.2 L91.1 487.8 L91.9 486.4 L92.7 486.5 L93.5 487.3 L94.3 486.3 L95.1 485.8 L95.9 485.6 L96.7 486.4 L97.5 485.4 L98.3 484.9 L99.1 484.2 L99.9 483.6 L100.7 484.7 L101.5 483.5 L102.3 483.2 L103.1 482.5 L103.9 482.7 L104.7 481.3 L105.5 480.5 L106.3 480.6 L107.1 480.3 L107.9 480.6 L108.7 479.6 L109.5 479.1 L110.3 479.3 L111.1 478.7 L111.9 478.4 L112.7 478.4 L113.5 478.1 L114.3 477.3 L115.1 477.7 L115.9 476.8 L116.7 476.7 L117.5 476.5 L118.3 476.4 L119.1 475.9 L119.9 475.4 L120.7 474.5 L121.5 475.1 L122.3 474.4 L123.1 474.5 L123.9 474.5 L124.7 474.6 L125.5 473.4 L126.3 472.7 L127.1 472.7 L127.9 472.7 L128.7 471.8 L129.5 472.4 L130.3 471.0 L131.1 472.2 L131.9 472.0 L132.7 471.7 L133.5 470.6 L134.3 471.0 L135.1 470.6 L135.9 470.4 L136.7 469.5 L137.5 469.0 L138.3 469.2 L139.1 468.5 L139.9 468.2 L140.7 468.1 L141.5 468.5 L142.3 467.7 L143.1 468.0 L143.9 467.1 L144.7 466.0 L145.5 466.4 L146.3 466.4 L147.1 465.8 L147.9 465.1 L148.7 465.2 L149.5 465.5 L150.3 464.6 L151.1 464.8 L151.9 465.2 L152.7 464.5 L153.5 463.9 L154.3 464.0 L155.1 464.1 L155.9 463.6 L156.7 462.9 L157.5 462.6 L158.3 462.9 L159.1 462.2 L159.9 462.5 L160.7 462.4 L161.5 461.2 L162.3 461.5 L163.1 461.6 L163.9 461.2 L164.7 461.2 L165.5 461.1 L166.3 461.0 L167.1 460.9 L167.9 460.1 L168.7 459.5 L169.5 459.2 L170.3 458.8 L171.1 459.0 L171.9 458.6 L172.7 458.4 L173.5 458.2 L174.3 458.4 L175.1 458.1 L175.9 457.8 L176.7 457.1 L177.5 456.9 L178.3 456.5 L179.1 456.6 L179.9 456.5 L180.7 455.8 L181.5 455.7 L182.3 456.0 L183.1 455.4 L183.9 454.9 L184.7 454.7 L185.5 454.7 L186.3 454.7 L187.1 454.4 L187.9 454.4 L188.7 454.2 L189.5 453.6 L190.3 453.9 L191.1 453.3 L191.9 453.5 L192.7 452.9 L193.5 452.7 L194.3 452.4 L195.1 452.2 L195.9 452.0 L196.7 451.7 L197.5 451.8 L198.3 451.5 L199.1 451.6 L199.9 451.1 L200.7 451.1 L201.5 450.9 L202.3 450.5 L203.1 450.6 L203.9 450.3 L204.7 449.9 L205.5 449.7 L206.3 449.5 L207.1 449.2 L207.9 449.1 L208.7 448.6 L209.5 448.7 L210.3 448.3 L211.1 448.5 L211.9 448.1 L212.7 448.0 L213.5 447.9 L214.3 447.5 L215.1 447.5 L215.9 447.0 L216.7 446.9 L217.5 446.5 L218.3 446.5 L219.1 446.5 L219.9 446.1 L220.7 445.7 L221.5 445.5 L222.3 445.2 L223.1 445.0 L223.9 444.7 L224.7 444.9 L225.5 444.6 L226.3 444.2 L227.1 443.8 L227.9 443.8 L228.7 443.9 L229.5 443.1 L230.3 443.0 L231.1 442.8 L231.9 442.9 L232.7 442.4 L233.5 442.5 L234.3 442.1 L235.1 442.0 L235.9 441.7 L236.7 441.9 L237.5 441.5 L238.3 441.4 L239.1 441.4 L239.9 441.0 L240.7 441.1 L241.5 440.7 L242.3 440.4 L243.1 440.2 L243.9 440.3 L244.7 440.0 L245.5 439.5 L246.3 439.4 L247.1 439.0 L247.9 439.0 L248.7 438.7 L249.5 438.5 L250.3 438.6 L251.1 438.5 L251.9 438.2 L252.7 437.9 L253.5 437.5 L254.3 437.0 L255.1 437.2 L255.9 437.0 L256.7 436.9 L257.5 436.9 L258.3 436.6 L259.1 436.0 L259.9 436.1 L260.7 435.9 L261.5 435.8 L262.3 435.5 L263.1 435.0 L263.9 435.0 L264.7 434.9 L265.5 434.5 L266.3 434.5 L267.1 434.3 L267.9 434.3 L268.7 433.9 L269.5 433.7 L270.3 433.6 L271.1 433.4 L271.9 433.3 L272.7 432.8 L273.5 432.4 L274.3 433.0 L275.1 432.7 L275.9 432.5 L276.7 432.6 L277.5 431.9 L278.3 431.7 L279.1 431.6 L279.9 431.4 L280.7 431.0 L281.5 431.0 L282.3 430.7 L283.1 430.9 L283.9 430.6 L284.7 430.1 L285.5 430.2 L286.3 429.9 L287.1 429.8 L287.9 429.6 L288.7 429.8 L289.5 429.3 L290.3 428.9 L291.1 428.9 L291.9 428.5 L292.7 428.8 L293.5 428.5 L294.3 428.5 L295.1 428.0 L295.9 427.6 L296.7 427.7 L297.5 427.2 L298.3 427.0 L299.1 426.9 L299.9 426.8 L300.7 426.5 L301.5 426.3 L302.3 426.6 L303.1 426.0 L303.9 425.9 L304.7 425.8 L305.5 425.6 L306.3 425.2 L307.1 425.1 L307.9 425.3 L308.7 425.2 L309.5 424.9 L310.3 424.9 L311.1 424.1 L311.9 424.2 L312.7 423.9 L313.5 423.4 L314.3 423.6 L315.1 423.5 L315.9 423.1 L316.7 422.5 L317.5 422.6 L318.3 422.5 L319.1 422.3 L319.9 422.2 L320.7 422.1 L321.5 422.0 L322.3 421.6 L323.1 421.7 L323.9 421.4 L324.7 421.2 L325.5 421.1 L326.3 420.7 L327.1 420.6 L327.9 420.7 L328.7 420.1 L329.5 419.9 L330.3 420.2 L331.1 419.7 L331.9 419.4 L332.5 419.2" stroke="#008080" stroke-width="1.8"/>
<path d="M76.9 508.9 L77.1 510.0 L77.4 508.0 L77.8 508.8 L78.3 507.3 L78.8 506.8 L79.3 507.4 L80.0 506.1 L80.6 506.9 L81.3 504.6 L82.0 504.2 L82.7 503.4 L83.5 504.0 L84.2 503.4 L84.9 503.8 L85.7 503.9 L86.4 503.4 L87.1 503.1 L87.8 502.8 L88.5 502.0 L89.3 501.3 L90.0 500.7 L90.7 501.0 L91.4 499.6 L92.1 498.9 L92.8 498.7 L93.5 498.8 L94.3 498.7 L95.0 498.2 L95.7 497.6 L96.4 498.2 L97.1 496.6 L97.8 496.9 L98.5 497.3 L99.3 496.5 L100.0 496.6 L100.7 495.5 L101.4 495.2 L102.1 494.6 L102.8 493.9 L103.6 494.2 L104.3 494.2 L105.0 492.5 L105.7 492.6 L106.4 491.7 L107.2 491.8 L107.9 491.3 L108.6 491.4 L109.3 491.2 L110.0 491.4 L110.8 491.0 L111.5 489.2 L112.2 488.8 L112.9 489.1 L113.7 488.5 L114.4 488.5 L115.1 487.6 L115.9 488.4 L116.6 487.8 L117.3 486.9 L118.0 486.4 L118.8 486.3 L119.5 486.8 L120.2 486.2 L121.0 485.7 L121.7 485.9 L122.4 486.4 L123.2 486.4 L123.9 485.9 L124.6 484.8 L125.4 484.1 L126.1 483.6 L126.8 483.4 L127.6 483.2 L128.3 482.2 L129.0 482.1 L129.8 482.0 L130.5 482.5 L131.3 481.8 L132.0 481.3 L132.7 481.4 L133.5 481.2 L134.2 479.8 L135.0 480.0 L135.7 480.4 L136.4 479.5 L137.2 479.5 L137.9 478.1 L138.7 478.1 L139.4 478.2 L140.1 478.3 L140.9 477.9 L141.6 476.7 L142.4 476.5 L143.1 476.6 L143.9 477.0 L144.6 476.7 L145.4 476.4 L146.1 475.8 L146.9 475.0 L147.6 474.9 L148.4 474.7 L149.1 475.2 L149.9 474.2 L150.6 474.3 L151.3 474.0 L152.1 473.9 L152.8 472.8 L153.6 472.9 L154.4 472.1 L155.1 472.6 L155.9 471.9 L156.6 471.8 L157.4 471.3 L158.1 471.2 L158.9 470.8 L159.6 470.6 L160.4 470.8 L161.1 469.9 L161.9 469.9 L162.6 469.7 L163.4 468.7 L164.1 468.4 L164.9 469.0 L165.7 468.2 L166.4 468.3 L167.2 468.2 L167.9 468.1 L168.7 467.5 L169.4 467.0 L170.2 467.2 L170.9 466.7 L171.7 466.8 L172.5 465.7 L173.2 465.7 L174.0 465.7 L174.7 465.6 L175.5 465.3 L176.3 464.8 L177.0 465.0 L177.8 464.3 L178.5 464.4 L179.3 464.1 L180.1 463.5 L180.8 463.6 L181.6 462.7 L182.3 463.3 L183.1 462.5 L183.9 462.6 L184.6 462.4 L185.4 462.0 L186.1 461.8 L186.9 462.0 L187.7 461.8 L188.4 461.3 L189.2 460.9 L190.0 460.4 L190.7 460.1 L191.5 460.2 L192.2 459.9 L193.0 459.8 L193.8 459.6 L194.5 459.4 L195.3 458.7 L196.1 458.3 L196.8 458.1 L197.6 458.1 L198.4 457.9 L199.1 457.8 L199.9 457.4 L200.7 457.3 L201.4 457.2 L202.2 456.8 L202.9 456.3 L203.7 456.4 L204.5 456.1 L205.2 456.0 L206.0 455.6 L206.8 455.5 L207.5 455.1 L208.3 455.0 L209.1 454.9 L209.8 454.4 L210.6 454.4 L211.4 454.2 L212.1 454.1 L212.9 453.7 L213.7 453.6 L214.5 452.9 L215.2 453.0 L216.0 452.9 L216.8 452.6 L217.5 452.0 L218.3 451.7 L219.1 451.8 L219.8 451.6 L220.6 451.6 L221.4 451.4 L222.1 451.2 L222.9 451.1 L223.7 450.4 L224.4 450.0 L225.2 450.2 L226.0 449.6 L226.8 449.7 L227.5 449.3 L228.3 449.1 L229.1 449.4 L229.8 448.8 L230.6 448.2 L231.4 448.2 L232.1 448.0 L232.9 447.8 L233.7 447.6 L234.5 447.2 L235.2 447.1 L236.0 447.0 L236.8 446.8 L237.5 446.5 L238.3 446.2 L239.1 445.8 L239.9 446.1 L240.6 445.4 L241.4 445.3 L242.2 445.2 L242.9 445.1 L243.7 444.9 L244.5 444.6 L245.3 444.6 L246.0 444.7 L246.8 444.5 L247.6 443.9 L248.3 443.8 L249.1 443.1 L249.9 443.2 L250.7 443.0 L251.4 442.7 L252.2 442.9 L253.0 442.6 L253.8 442.3 L254.5 441.5 L255.3 441.6 L256.1 441.7 L256.8 441.4 L257.6 440.9 L258.4 440.9 L259.2 441.0 L259.9 440.6 L260.7 440.4 L261.5 440.1 L262.2 440.2 L263.0 439.3 L263.8 439.2 L264.6 439.4 L265.3 439.1 L266.1 438.8 L266.9 438.6 L267.7 438.1 L268.4 438.0 L269.2 437.8 L270.0 437.4 L270.7 437.8 L271.5 437.6 L272.3 437.2 L273.1 437.1 L273.8 436.7 L274.6 436.6 L275.4 436.3 L276.2 436.5 L276.9 435.7 L277.7 435.6 L278.5 435.6 L279.2 435.5 L280.0 434.7 L280.8 434.7 L281.6 434.7 L282.3 434.3 L283.1 434.1 L283.9 433.9 L284.7 433.8 L285.4 433.9 L286.2 433.2 L287.0 433.5 L287.7 433.0 L288.5 433.0 L289.3 432.6 L290.1 432.8 L290.8 431.9 L291.6 432.3 L292.4 431.8 L293.1 431.5 L293.9 431.5 L294.7 430.9 L295.5 430.8 L296.2 430.7 L297.0 430.2 L297.8 430.5 L298.5 430.3 L299.3 429.9 L300.1 429.7 L300.9 429.2 L301.6 429.0 L302.4 428.9 L303.2 428.8 L303.9 428.6 L304.7 428.3 L305.5 428.0 L306.2 427.6 L307.0 427.5 L307.8 427.5 L308.6 427.1 L309.3 427.0 L310.1 426.7 L310.9 426.8 L311.6 426.4 L312.4 426.0 L313.2 426.2 L313.9 425.9 L314.7 425.4 L315.5 425.0 L316.2 424.9 L317.0 424.6 L317.8 424.8 L318.6 424.7 L319.3 424.5 L320.1 424.1 L320.9 423.9 L321.6 423.9 L322.4 423.9 L323.2 423.1 L323.9 422.9 L324.7 422.4 L325.5 422.0 L326.2 422.1 L327.0 422.0 L327.8 421.5 L328.5 421.7 L329.3 421.5 L330.1 421.1 L330.8 421.1 L331.1 420.6" stroke="#ff8000" stroke-width="1.8"/>
<path d="M68.3 519.1 L69.1 518.8 L69.9 518.8 L70.7 518.0 L71.5 517.9 L72.3 517.3 L73.1 516.4 L73.9 516.2 L74.7 516.0 L75.5 515.3 L76.3 514.8 L77.1 514.4 L77.9 513.8 L78.7 514.1 L79.5 512.9 L80.3 513.2 L81.1 512.3 L81.9 511.9 L82.7 511.4 L83.5 510.8 L84.3 510.3 L85.1 509.7 L85.9 509.1 L86.7 508.4 L87.5 508.4 L88.3 508.3 L89.1 507.8 L89.9 507.0 L90.7 506.5 L91.5 505.3 L92.3 505.2 L93.1 505.1 L93.9 505.1 L94.7 504.8 L95.5 503.8 L96.3 502.9 L97.1 503.0 L97.9 502.7 L98.7 502.2 L99.5 501.3 L100.3 500.9 L101.1 500.6 L101.9 500.1 L102.7 500.2 L103.5 499.4 L104.3 499.4 L105.1 498.9 L105.9 498.3 L106.7 497.4 L107.5 497.5 L108.3 497.0 L109.1 495.9 L109.9 495.6 L110.7 495.4 L111.5 495.7 L112.3 494.8 L113.1 494.1 L113.9 494.2 L114.7 493.9 L115.5 492.8 L116.3 493.5 L117.1 492.6 L117.9 492.8 L118.7 492.3 L119.5 491.4 L120.3 491.3 L121.1 491.0 L121.9 490.6 L122.7 490.6 L123.5 490.1 L124.3 489.2 L125.1 489.3 L125.9 488.4 L126.7 488.3 L127.5 488.1 L128.3 487.8 L129.1 488.0 L129.9 487.3 L130.7 486.7 L131.5 486.9 L132.3 486.3 L133.1 485.7 L133.9 485.4 L134.7 484.9 L135.5 484.7 L136.3 484.1 L137.1 484.5 L137.9 484.1 L138.7 483.0 L139.5 482.9 L140.3 482.8 L141.1 482.4 L141.9 481.8 L142.7 482.2 L143.5 481.5 L144.3 481.6 L145.1 481.1 L145.9 481.0 L146.7 480.1 L147.5 480.6 L148.3 479.5 L149.1 480.0 L149.9 479.7 L150.7 479.2 L151.5 478.4 L152.3 478.6 L153.1 478.1 L153.9 477.5 L154.7 477.2 L155.5 477.2 L156.3 476.7 L157.1 476.7 L157.9 476.2 L158.7 475.9 L159.5 475.4 L160.3 475.5 L161.1 475.0 L161.9 474.5 L162.7 474.2 L163.5 474.4 L164.3 474.0 L165.1 473.4 L165.9 473.3 L166.7 473.0 L167.5 473.0 L168.3 472.3 L169.1 472.2 L169.9 472.1 L170.7 471.7 L171.5 471.5 L172.3 471.4 L173.1 470.7 L173.9 470.5 L174.7 470.5 L175.5 470.3 L176.3 469.8 L177.1 469.4 L177.9 468.9 L178.7 468.9 L179.5 468.7 L180.3 468.2 L181.1 468.0 L181.9 467.5 L182.7 467.4 L183.5 467.0 L184.3 467.0 L185.1 466.7 L185.9 466.3 L186.7 466.3 L187.5 466.0 L188.3 465.8 L189.1 465.2 L189.9 465.1 L190.7 465.0 L191.5 464.6 L192.3 464.2 L193.1 463.9 L193.9 463.9 L194.7 463.3 L195.5 463.0 L196.3 462.9 L197.1 462.5 L197.9 462.1 L198.7 461.8 L199.5 461.8 L200.3 461.5 L201.1 461.5 L201.9 461.0 L202.7 460.6 L203.5 460.3 L204.3 460.0 L205.1 460.1 L205.9 459.7 L206.7 459.7 L207.5 459.2 L208.3 459.1 L209.1 458.6 L209.9 458.5 L210.7 457.9 L211.5 457.8 L212.3 457.5 L213.1 457.5 L213.9 457.1 L214.7 457.0 L215.5 456.5 L216.3 456.3 L217.1 456.2 L217.9 456.2 L218.7 455.8 L219.5 455.7 L220.3 455.1 L221.1 454.9 L221.9 454.6 L222.7 454.4 L223.5 454.1 L224.3 454.0 L225.1 453.6 L225.9 453.3 L226.7 453.3 L227.5 453.0 L228.3 452.7 L229.1 452.5 L229.9 452.1 L230.7 452.1 L231.5 451.6 L232.3 451.7 L233.1 451.0 L233.9 451.0 L234.7 450.9 L235.5 450.4 L236.3 450.4 L237.1 450.1 L237.9 449.8 L238.7 449.4 L239.5 449.5 L240.3 449.3 L241.1 449.0 L241.9 449.0 L242.7 448.5 L243.5 447.9 L244.3 448.0 L245.1 447.9 L245.9 447.4 L246.7 447.4 L247.5 447.0 L248.3 446.8 L249.1 446.2 L249.9 446.0 L250.7 446.0 L251.5 445.7 L252.3 445.3 L253.1 445.4 L253.9 445.1 L254.7 444.7 L255.5 444.4 L256.3 444.5 L257.1 444.1 L257.9 444.0 L258.7 443.8 L259.5 443.4 L260.3 443.2 L261.1 443.1 L261.9 442.7 L262.7 442.2 L263.5 442.2 L264.3 442.0 L265.1 441.8 L265.9 441.7 L266.7 441.4 L267.5 441.2 L268.3 441.1 L269.1 440.6 L269.9 440.3 L270.7 440.3 L271.5 439.9 L272.3 439.9 L273.1 439.5 L273.9 439.2 L274.7 439.1 L275.5 438.7 L276.3 438.9 L277.1 438.5 L277.9 438.4 L278.7 438.1 L279.5 437.8 L280.3 437.5 L281.1 437.4 L281.9 437.0 L282.7 436.7 L283.5 436.4 L284.3 436.6 L285.1 436.2 L285.9 436.0 L286.7 435.6 L287.5 435.7 L288.3 435.3 L289.1 435.2 L289.9 434.8 L290.7 434.5 L291.5 434.4 L292.3 433.8 L293.1 433.6 L293.9 433.6 L294.7 433.5 L295.5 433.3 L296.3 433.0 L297.1 432.7 L297.9 432.5 L298.7 432.2 L299.5 431.8 L300.3 431.7 L301.1 431.4 L301.9 431.2 L302.7 431.2 L303.5 430.8 L304.3 430.5 L305.1 430.5 L305.9 430.2 L306.7 430.1 L307.5 429.6 L308.3 429.3 L309.1 429.0 L309.9 429.1 L310.7 428.8 L311.5 428.6 L312.3 428.2 L313.1 427.9 L313.9 427.5 L314.7 427.4 L315.5 427.1 L316.3 426.7 L317.1 426.8 L317.9 426.5 L318.7 426.2 L319.5 425.9 L320.3 425.6 L321.1 425.4 L321.9 425.2 L322.7 424.7 L323.5 424.5 L324.3 424.1 L325.1 424.0 L325.9 423.4 L326.7 423.2 L327.5 423.0 L328.3 422.9 L329.1 422.5" stroke="#8000ff" stroke-width="1.8"/>
<path d="M58.6 536.6 L59.4 535.8 L60.2 535.8 L61.0 534.6 L61.8 534.4 L62.6 534.0 L63.4 533.0 L64.2 532.1 L65.0 531.5 L65.8 530.2 L66.6 530.7 L67.4 530.3 L68.2 529.1 L69.0 528.0 L69.8 527.8 L70.6 526.8 L71.4 526.1 L72.2 526.4 L73.0 525.9 L73.8 525.1 L74.6 525.1 L75.4 524.2 L76.2 523.3 L77.0 523.5 L77.8 522.4 L78.6 522.2 L79.4 521.4 L80.2 521.3 L81.0 520.8 L81.8 520.4 L82.6 520.2 L83.4 519.8 L84.2 519.2 L85.0 519.1 L85.8 517.8 L86.6 517.8 L87.4 517.7 L88.2 516.8 L89.0 515.7 L89.8 516.1 L90.6 515.1 L91.4 515.1 L92.2 514.6 L93.0 514.4 L93.8 514.1 L94.6 513.3 L95.4 513.0 L96.2 511.8 L97.0 511.6 L97.8 511.6 L98.6 511.8 L99.4 510.6 L100.2 510.3 L101.0 510.3 L101.8 509.5 L102.6 508.9 L103.4 508.2 L104.2 508.5 L105.0 507.3 L105.8 507.2 L106.6 506.8 L107.4 506.2 L108.2 506.5 L109.0 505.5 L109.8 505.5 L110.6 504.8 L111.4 504.6 L112.2 504.1 L113.0 503.5 L113.8 503.2 L114.6 502.4 L115.4 501.7 L116.2 501.5 L117.0 501.8 L117.8 500.9 L118.6 500.7 L119.4 500.5 L120.2 500.0 L121.0 499.5 L121.8 499.0 L122.6 499.4 L123.4 498.7 L124.2 498.0 L125.0 497.9 L125.8 497.7 L126.6 496.7 L127.4 496.9 L128.2 496.4 L129.0 496.2 L129.8 495.8 L130.6 495.2 L131.4 494.7 L132.2 494.7 L133.0 494.4 L133.8 494.5 L134.6 493.6 L135.4 493.4 L136.2 492.8 L137.0 492.0 L137.8 492.3 L138.6 491.6 L139.4 491.0 L140.2 491.2 L141.0 491.0 L141.8 490.5 L142.6 490.1 L143.4 489.6 L144.2 489.3 L145.0 489.3 L145.8 488.8 L146.6 488.6 L147.4 488.2 L148.2 487.3 L149.0 487.4 L149.8 487.2 L150.6 486.8 L151.4 486.2 L152.2 486.0 L153.0 486.0 L153.8 485.6 L154.6 485.3 L155.4 484.5 L156.2 484.4 L157.0 484.3 L157.8 483.7 L158.6 483.8 L159.4 483.4 L160.2 483.0 L161.0 482.4 L161.8 482.0 L162.6 481.7 L163.4 481.7 L164.2 481.4 L165.0 480.6 L165.8 480.2 L166.6 480.2 L167.4 480.2 L168.2 479.7 L169.0 479.4 L169.8 479.0 L170.6 478.7 L171.4 478.2 L172.2 478.0 L173.0 477.7 L173.8 477.3 L174.6 477.4 L175.4 476.7 L176.2 476.4 L177.0 476.0 L177.8 476.0 L178.6 475.7 L179.4 475.1 L180.2 474.8 L181.0 474.4 L181.8 473.9 L182.6 473.7 L183.4 473.6 L184.2 473.4 L185.0 472.9 L185.8 472.6 L186.6 472.4 L187.4 472.1 L188.2 471.6 L189.0 471.2 L189.8 470.8 L190.6 470.7 L191.4 470.4 L192.2 470.1 L193.0 469.8 L193.8 469.4 L194.6 469.2 L195.4 468.9 L196.2 468.5 L197.0 468.5 L197.8 468.2 L198.6 467.7 L199.4 467.4 L200.2 467.2 L201.0 466.5 L201.8 466.3 L202.6 466.1 L203.4 465.8 L204.2 465.8 L205.0 465.4 L205.8 465.1 L206.6 464.8 L207.4 464.6 L208.2 464.5 L209.0 463.9 L209.8 463.5 L210.6 463.2 L211.4 463.0 L212.2 462.8 L213.0 462.5 L213.8 462.2 L214.6 461.9 L215.4 461.7 L216.2 461.4 L217.0 460.9 L217.8 460.9 L218.6 460.7 L219.4 460.3 L220.2 460.2 L221.0 459.8 L221.8 459.4 L222.6 459.2 L223.4 459.0 L224.2 458.5 L225.0 458.4 L225.8 458.3 L226.6 458.0 L227.4 457.7 L228.2 457.4 L229.0 456.8 L229.8 456.9 L230.6 456.3 L231.4 456.2 L232.2 455.9 L233.0 455.8 L233.8 455.3 L234.6 455.3 L235.4 454.8 L236.2 454.9 L237.0 454.3 L237.8 454.0 L238.6 453.6 L239.4 453.5 L240.2 453.5 L241.0 453.2 L241.8 452.8 L242.6 452.7 L243.4 452.5 L244.2 452.4 L245.0 451.9 L245.8 451.7 L246.6 451.6 L247.4 451.4 L248.2 450.9 L249.0 450.4 L249.8 450.1 L250.6 450.3 L251.4 449.9 L252.2 449.5 L253.0 449.4 L253.8 449.1 L254.6 448.8 L255.4 448.6 L256.2 448.4 L257.0 448.3 L257.8 447.5 L258.6 447.5 L259.4 447.2 L260.2 446.9 L261.0 446.9 L261.8 446.4 L262.6 446.1 L263.4 446.3 L264.2 445.9 L265.0 445.7 L265.8 445.4 L266.6 444.7 L267.4 444.8 L268.2 444.5 L269.0 444.4 L269.8 444.2 L270.6 443.9 L271.4 443.4 L272.2 443.2 L273.0 443.0 L273.8 442.8 L274.6 442.2 L275.4 442.4 L276.2 441.8 L277.0 441.9 L277.8 441.5 L278.6 441.4 L279.4 440.9 L280.2 440.9 L281.0 440.6 L281.8 440.3 L282.6 440.0 L283.4 439.5 L284.2 439.3 L285.0 439.0 L285.8 438.9 L286.6 438.6 L287.4 438.5 L288.2 438.2 L289.0 438.0 L289.8 437.5 L290.6 437.5 L291.4 437.1 L292.2 436.8 L293.0 436.4 L293.8 436.4 L294.6 436.1 L295.4 435.9 L296.2 435.5 L297.0 435.1 L297.8 435.2 L298.6 434.9 L299.4 434.5 L300.2 434.3 L301.0 434.0 L301.8 433.5 L302.6 433.6 L303.4 433.0 L304.2 433.0 L305.0 432.6 L305.8 432.3 L306.6 432.4 L307.4 431.9 L308.2 431.5 L309.0 431.4 L309.8 431.0 L310.6 431.0 L311.4 430.5 L312.2 430.1 L313.0 430.2 L313.8 429.7 L314.6 429.3 L315.4 429.3 L316.2 429.0 L317.0 428.6 L317.8 428.3 L318.6 428.1 L319.4 427.8 L320.2 427.6 L321.0 427.3 L321.8 426.8 L322.6 426.6 L323.4 426.4 L324.2 426.3 L325.0 425.7 L325.8 425.6 L326.6 425.1 L326.7 425.2" stroke="#ff0080" stroke-width="1.8"/>
<path d="M28.1 585.2 L28.9 584.6 L29.7 585.0 L30.5 583.6 L31.3 583.0 L32.1 582.4 L32.9 582.3 L33.7 581.9 L34.5 581.6 L35.3 580.3 L36.1 579.3 L36.9 579.0 L37.7 578.6 L38.5 577.9 L39.3 576.6 L40.1 576.4 L40.9 576.3 L41.7 575.3 L42.5 574.3 L43.3 574.2 L44.1 573.3 L44.9 572.9 L45.7 572.7 L46.5 571.6 L47.3 570.8 L48.1 570.5 L48.9 570.6 L49.7 569.9 L50.5 569.7 L51.3 568.8 L52.1 568.7 L52.9 567.6 L53.7 566.9 L54.5 566.6 L55.3 566.0 L56.1 565.5 L56.9 565.3 L57.7 565.3 L58.5 564.3 L59.3 563.4 L60.1 563.6 L60.9 563.5 L61.7 562.5 L62.5 561.3 L63.3 561.6 L64.1 561.5 L64.9 561.0 L65.7 560.9 L66.5 560.1 L67.3 558.6 L68.1 558.9 L68.9 557.7 L69.7 557.0 L70.5 556.3 L71.3 556.1 L72.1 556.1 L72.9 556.0 L73.7 555.5 L74.5 554.8 L75.3 554.6 L76.1 553.6 L76.9 553.0 L77.7 553.5 L78.5 552.5 L79.3 551.8 L80.1 551.7 L80.9 550.8 L81.7 551.1 L82.5 549.6 L83.3 549.4 L84.1 549.1 L84.9 548.6 L85.7 547.6 L86.5 547.8 L87.3 547.4 L88.1 547.0 L88.9 546.8 L89.7 546.0 L90.5 546.0 L91.3 545.0 L92.1 544.4 L92.9 544.1 L93.7 543.6 L94.5 543.1 L95.3 542.8 L96.1 542.7 L96.9 541.3 L97.7 540.7 L98.5 540.8 L99.3 540.6 L100.1 540.0 L100.9 539.3 L101.7 538.9 L102.5 538.7 L103.3 538.7 L104.1 537.4 L104.9 536.8 L105.7 535.9 L106.5 536.2 L107.3 535.7 L108.1 535.2 L108.9 534.6 L109.7 534.1 L110.5 534.1 L111.3 533.3 L112.1 532.9 L112.9 531.9 L113.7 531.2 L114.5 530.6 L115.3 530.5 L116.1 530.2 L116.9 529.8 L117.7 528.9 L118.5 528.9 L119.3 528.0 L120.1 527.9 L120.9 527.0 L121.7 526.8 L122.5 526.2 L123.3 525.8 L124.1 525.4 L124.9 525.2 L125.7 524.7 L126.5 523.8 L127.3 523.2 L128.1 523.3 L128.9 523.2 L129.7 522.3 L130.5 521.9 L131.3 521.5 L132.1 521.3 L132.9 521.1 L133.7 520.2 L134.5 520.0 L135.3 519.8 L136.1 519.1 L136.9 518.4 L137.7 517.9 L138.5 518.0 L139.3 517.9 L140.1 517.3 L140.9 516.9 L141.7 516.1 L142.5 515.7 L143.3 515.1 L144.1 515.1 L144.9 514.6 L145.7 514.1 L146.5 513.8 L147.3 513.7 L148.1 513.4 L148.9 513.0 L149.7 512.7 L150.5 512.0 L151.3 511.2 L152.1 511.1 L152.9 510.2 L153.7 509.7 L154.5 509.8 L155.3 509.2 L156.1 508.9 L156.9 508.5 L157.7 508.2 L158.5 507.5 L159.3 507.7 L160.1 507.4 L160.9 506.7 L161.7 506.6 L162.5 506.1 L163.3 505.8 L164.1 505.4 L164.9 504.5 L165.7 504.4 L166.5 503.8 L167.3 503.5 L168.1 502.9 L168.9 502.8 L169.7 502.4 L170.5 501.7 L171.3 501.5 L172.1 501.1 L172.9 500.7 L173.7 500.3 L174.5 499.6 L175.3 499.1 L176.1 499.1 L176.9 498.7 L177.7 498.2 L178.5 497.8 L179.3 497.2 L180.1 497.0 L180.9 496.5 L181.7 496.4 L182.5 496.0 L183.3 495.5 L184.1 495.2 L184.9 494.8 L185.7 494.3 L186.5 493.8 L187.3 493.4 L188.1 493.0 L188.9 492.5 L189.7 492.4 L190.5 492.1 L191.3 491.4 L192.1 491.3 L192.9 490.9 L193.7 490.5 L194.5 490.2 L195.3 489.8 L196.1 489.2 L196.9 489.1 L197.7 488.6 L198.5 488.0 L199.3 488.1 L200.1 487.4 L200.9 486.9 L201.7 486.7 L202.5 486.3 L203.3 485.8 L204.1 485.6 L204.9 485.1 L205.7 484.6 L206.5 484.0 L207.3 483.9 L208.1 483.4 L208.9 483.0 L209.7 482.8 L210.5 482.7 L211.3 482.0 L212.1 481.8 L212.9 481.1 L213.7 480.6 L214.5 480.4 L215.3 480.2 L216.1 479.8 L216.9 479.5 L217.7 479.3 L218.5 478.9 L219.3 478.4 L220.1 478.0 L220.9 477.7 L221.7 477.3 L222.5 476.8 L223.3 476.4 L224.1 476.0 L224.9 475.6 L225.7 475.2 L226.5 474.9 L227.3 474.9 L228.1 474.5 L228.9 474.0 L229.7 473.4 L230.5 473.0 L231.3 472.8 L232.1 472.3 L232.9 472.2 L233.7 471.8 L234.5 471.6 L235.3 471.0 L236.1 470.9 L236.9 470.3 L237.7 470.1 L238.5 469.5 L239.3 469.2 L240.1 469.0 L240.9 468.3 L241.7 468.3 L242.5 467.7 L243.3 467.6 L244.1 467.0 L244.9 466.7 L245.7 466.4 L246.5 466.1 L247.3 465.5 L248.1 465.4 L248.9 465.0 L249.7 464.7 L250.5 464.1 L251.3 463.9 L252.1 463.4 L252.9 463.2 L253.7 463.0 L254.5 462.7 L255.3 462.0 L256.1 461.8 L256.9 461.5 L257.7 461.0 L258.5 460.8 L259.3 460.5 L260.1 460.4 L260.9 459.9 L261.7 459.8 L262.5 459.0 L263.3 459.0 L264.1 458.6 L264.9 458.1 L265.7 457.6 L266.5 457.5 L267.3 457.0 L268.1 457.0 L268.9 456.6 L269.7 456.2 L270.5 455.8 L271.3 455.6 L272.1 455.2 L272.9 455.0 L273.7 454.7 L274.5 454.1 L275.3 454.0 L276.1 453.7 L276.9 453.3 L277.7 452.9 L278.5 452.7 L279.3 452.1 L280.1 451.8 L280.9 451.5 L281.7 451.2 L282.5 451.1 L283.3 450.6 L284.1 450.3 L284.9 449.8 L285.7 449.6 L286.5 449.1 L287.3 449.1 L288.1 448.6 L288.9 448.4 L289.7 448.2 L290.5 447.8 L291.3 447.5 L292.1 447.1 L292.9 446.7 L293.7 446.1 L294.5 446.0 L295.3 445.5 L296.1 445.1 L296.9 444.8 L297.7 444.5 L298.5 444.2 L299.3 443.6 L300.1 443.2 L300.9 443.1 L301.7 442.6 L302.5 442.2 L303.3 441.8 L304.1 441.3 L304.9 441.4 L305.7 441.0 L306.5 440.3 L307.3 440.0 L308.1 439.8 L308.9 439.6 L309.7 439.2 L310.5 438.9 L311.3 438.5 L312.1 438.2 L312.9 437.9 L313.7 437.6 L314.5 437.6 L315.3 437.3 L315.5 437.1" stroke="#000000" stroke-width="2.1"/>
</g>
<path d="M95.5 458.9 L335.1 415.6" stroke="#ff0000" stroke-width="1.8" fill="none"/>
<g fill="#fff" stroke="#000" stroke-width="0.85">
<circle cx="335.1" cy="415.6" r="3.05"/>
<circle cx="325.9" cy="417.3" r="3.05"/>
<circle cx="315.7" cy="419.1" r="3.05"/>
<circle cx="305.4" cy="421.0" r="3.05"/>
<circle cx="295.0" cy="422.9" r="3.05"/>
<circle cx="284.4" cy="424.8" r="3.05"/>
<circle cx="273.9" cy="426.7" r="3.05"/>
<circle cx="263.7" cy="428.5" r="3.05"/>
<circle cx="253.7" cy="430.3" r="3.05"/>
<circle cx="244.0" cy="432.1" r="3.05"/>
<circle cx="234.5" cy="433.8" r="3.05"/>
<circle cx="225.3" cy="435.4" r="3.05"/>
<circle cx="216.3" cy="437.1" r="3.05"/>
<circle cx="207.6" cy="438.6" r="3.05"/>
<circle cx="199.3" cy="440.1" r="3.05"/>
<circle cx="191.6" cy="441.5" r="3.05"/>
<circle cx="184.1" cy="442.9" r="3.05"/>
<circle cx="177.1" cy="444.2" r="3.05"/>
<circle cx="171.1" cy="445.2" r="3.05"/>
<circle cx="165.3" cy="446.3" r="3.05"/>
<circle cx="159.7" cy="447.3" r="3.05"/>
<circle cx="154.9" cy="448.2" r="3.05"/>
<circle cx="150.2" cy="449.0" r="3.05"/>
<circle cx="146.0" cy="449.8" r="3.05"/>
<circle cx="141.6" cy="450.6" r="3.05"/>
<circle cx="138.0" cy="451.2" r="3.05"/>
<circle cx="134.2" cy="451.9" r="3.05"/>
<circle cx="131.0" cy="452.5" r="3.05"/>
<circle cx="127.6" cy="453.1" r="3.05"/>
<circle cx="124.6" cy="453.6" r="3.05"/>
<circle cx="121.7" cy="454.2" r="3.05"/>
<circle cx="119.2" cy="454.6" r="3.05"/>
<circle cx="116.8" cy="455.1" r="3.05"/>
<circle cx="115.1" cy="455.4" r="3.05"/>
<circle cx="113.7" cy="455.6" r="3.05"/>
<circle cx="112.5" cy="455.8" r="3.05"/>
<circle cx="111.5" cy="456.0" r="3.05"/>
<circle cx="110.6" cy="456.2" r="3.05"/>
<circle cx="109.8" cy="456.3" r="3.05"/>
<circle cx="109.1" cy="456.4" r="3.05"/>
<circle cx="108.3" cy="456.6" r="3.05"/>
<circle cx="107.6" cy="456.7" r="3.05"/>
<circle cx="106.8" cy="456.8" r="3.05"/>
<circle cx="106.1" cy="457.0" r="3.05"/>
<circle cx="105.3" cy="457.1" r="3.05"/>
<circle cx="104.6" cy="457.3" r="3.05"/>
<circle cx="103.8" cy="457.4" r="3.05"/>
<circle cx="103.1" cy="457.5" r="3.05"/>
<circle cx="102.3" cy="457.7" r="3.05"/>
<circle cx="101.6" cy="457.8" r="3.05"/>
<circle cx="100.8" cy="457.9" r="3.05"/>
<circle cx="100.1" cy="458.1" r="3.05"/>
<circle cx="99.3" cy="458.2" r="3.05"/>
<circle cx="98.6" cy="458.3" r="3.05"/>
<circle cx="97.8" cy="458.5" r="3.05"/>
<circle cx="97.1" cy="458.6" r="3.05"/>
<circle cx="95.5" cy="458.9" r="3.05"/>
</g>
<path d="M32.2 470.3 L160.6 447.2" stroke="#ff0000" stroke-width="1.7" stroke-dasharray="6.7 4.6" fill="none"/>
<rect x="181.7" y="495.8" width="161.0" height="89.99999999999994" fill="#fff" stroke="#333" stroke-width="0.8"/>
<text x="261.8" y="507.7" font-size="10" text-anchor="middle"><tspan font-family="Liberation Serif" font-size="10">μ</tspan> (top to bottom)</text>
<path d="M182.6 516.4 H206.7" stroke="#00ff00" stroke-width="1.7"/>
<text x="208.6" y="520.0" font-size="10">0.72</text>
<path d="M182.6 528.9 H206.7" stroke="#00ffff" stroke-width="1.7"/>
<text x="208.6" y="532.5" font-size="10">0.74</text>
<path d="M182.6 541.3 H206.7" stroke="#ff00ff" stroke-width="1.7"/>
<text x="208.6" y="544.9" font-size="10">0.76</text>
<path d="M182.6 553.8 H206.7" stroke="#808000" stroke-width="1.7"/>
<text x="208.6" y="557.4" font-size="10">0.78</text>
<path d="M182.6 566.3 H206.7" stroke="#000080" stroke-width="1.7"/>
<text x="208.6" y="569.9" font-size="10">0.80</text>
<path d="M182.6 578.6 H206.7" stroke="#800080" stroke-width="1.7"/>
<text x="208.6" y="582.2" font-size="10">0.8</text>
<path transform="translate(222.50 582.20) scale(10)" d="M.373 0H.285V-.56Q.253-.53 .202-.5Q.15-.469 .109-.454V-.539Q.183-.574 .239-.624Q.294-.673 .317-.719H.373Z" fill="#000" stroke="#000" stroke-width="0.0250"/>
<path d="M238.7 516.4 H263.1" stroke="#800000" stroke-width="1.7"/>
<text x="264.8" y="520.0" font-size="10">0.82</text>
<path d="M238.7 528.9 H263.1" stroke="#0000ff" stroke-width="1.7"/>
<text x="264.8" y="532.5" font-size="10">0.83</text>
<path d="M238.7 541.3 H263.1" stroke="#ff0000" stroke-width="1.7"/>
<circle cx="250.9" cy="541.3" r="3.05" fill="#fff" stroke="#000" stroke-width="1.0"/>
<text x="264.8" y="544.9" font-size="10">0.835</text>
<path d="M238.7 553.8 H263.1" stroke="#008000" stroke-width="1.7"/>
<text x="264.8" y="557.4" font-size="10">0.84</text>
<path d="M238.7 566.3 H263.1" stroke="#00008b" stroke-width="1.7"/>
<text x="264.8" y="569.9" font-size="10">0.85</text>
<path d="M238.7 578.6 H263.1" stroke="#008080" stroke-width="1.7"/>
<text x="264.8" y="582.2" font-size="10">0.86</text>
<path d="M295.0 516.4 H319.2" stroke="#ff8000" stroke-width="1.7"/>
<text x="321.0" y="520.0" font-size="10">0.88</text>
<path d="M295.0 528.9 H319.2" stroke="#8000ff" stroke-width="1.7"/>
<text x="321.0" y="532.5" font-size="10">0.89</text>
<path d="M295.0 541.3 H319.2" stroke="#ff0080" stroke-width="1.7"/>
<text x="321.0" y="544.9" font-size="10">0.9</text>
<path transform="translate(334.90 544.90) scale(10)" d="M.373 0H.285V-.56Q.253-.53 .202-.5Q.15-.469 .109-.454V-.539Q.183-.574 .239-.624Q.294-.673 .317-.719H.373Z" fill="#000" stroke="#000" stroke-width="0.0250"/>
<path d="M295.0 553.8 H319.2" stroke="#000000" stroke-width="1.7"/>
<path transform="translate(321.00 557.40) scale(10)" d="M.373 0H.285V-.56Q.253-.53 .202-.5Q.15-.469 .109-.454V-.539Q.183-.574 .239-.624Q.294-.673 .317-.719H.373Z" fill="#000" stroke="#000" stroke-width="0.0250"/>
<text x="326.56" y="557.4" font-size="10">.00</text>
<path d="M342.7 494.8 V585.8 H180.7" fill="none" stroke="#000" stroke-width="1.5"/>
<text x="9.9" y="604.2" font-size="14.3">0.02</text>
<text x="176.3" y="604.2" font-size="14.3">0.</text>
<path transform="translate(188.23 604.20) scale(14.3)" d="M.373 0H.285V-.56Q.253-.53 .202-.5Q.15-.469 .109-.454V-.539Q.183-.574 .239-.624Q.294-.673 .317-.719H.373Z" fill="#000" stroke="#000" stroke-width="0.0175"/>
<text x="324.3" y="604.2" font-size="14.3">0.45</text>
<text x="1.5" y="590.3" font-size="14.3">0.</text>
<path transform="translate(13.43 590.30) scale(14.3)" d="M.373 0H.285V-.56Q.253-.53 .202-.5Q.15-.469 .109-.454V-.539Q.183-.574 .239-.624Q.294-.673 .317-.719H.373Z" fill="#000" stroke="#000" stroke-width="0.0175"/>
<path transform="translate(13.60 419.70) scale(14.3)" d="M.373 0H.285V-.56Q.253-.53 .202-.5Q.15-.469 .109-.454V-.539Q.183-.574 .239-.624Q.294-.673 .317-.719H.373Z" fill="#000" stroke="#000" stroke-width="0.0175"/>
<text x="20.7" y="368.2" font-size="14.3" text-anchor="end">2</text>
<text x="142.8" y="605.6" font-size="14.3">P<tspan font-size="9.4" dy="5.2">S</tspan></text>
<text transform="translate(17.6 484.2) rotate(-90)" font-size="14.3">N<tspan font-size="9.9" dy="5.4" dx="-0.4">S</tspan></text>
</svg></body></html>
